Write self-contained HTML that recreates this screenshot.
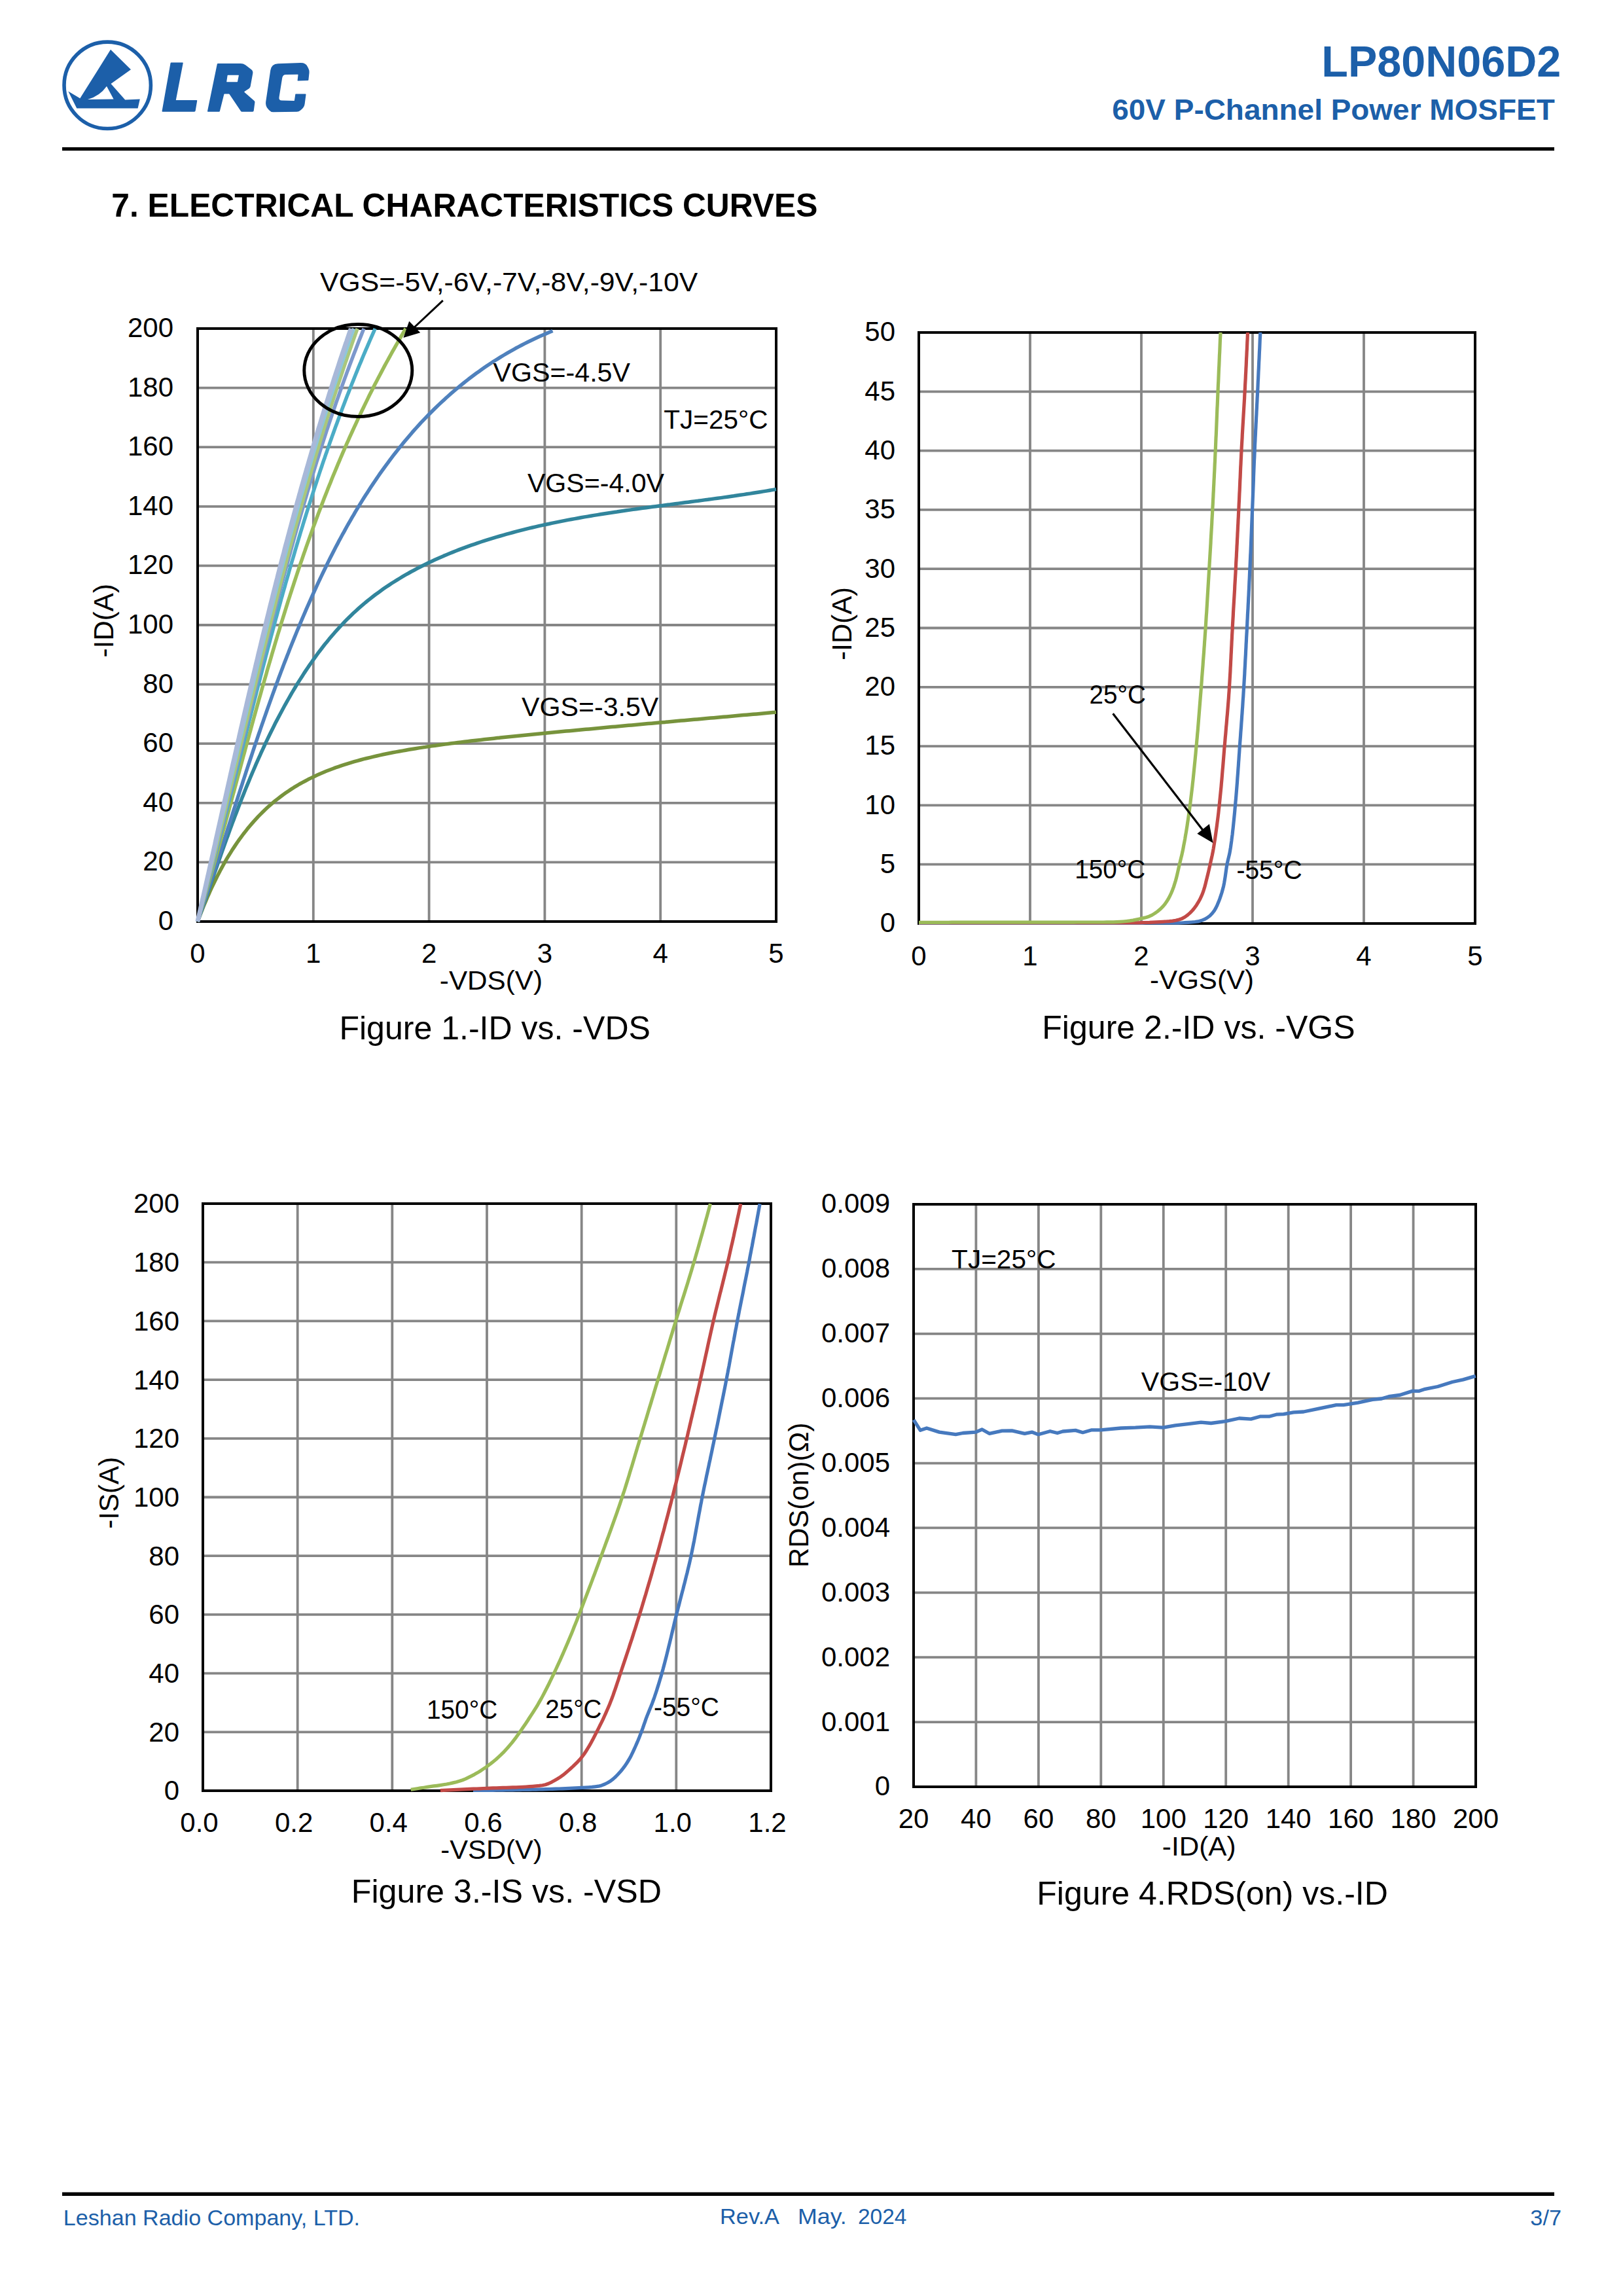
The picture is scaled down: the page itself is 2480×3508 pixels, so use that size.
<!DOCTYPE html>
<html><head><meta charset="utf-8"><title>LP80N06D2</title>
<style>
html,body{margin:0;padding:0;background:#fff;}
body{width:2480px;height:3508px;position:relative;overflow:hidden;font-family:"Liberation Sans", sans-serif;}
</style></head><body>
<svg width="2480" height="3508" viewBox="0 0 2480 3508" style="position:absolute;left:0;top:0" font-family='"Liberation Sans", sans-serif'>
<circle cx="164.2" cy="130.3" r="66.2" fill="none" stroke="#1c5fa9" stroke-width="5.6"/>
<path d="M169.0 75.8 L200.0 106.3 L169.5 128.0 L191.2 152.5 L213.8 151.6 L210.6 165.4 L117.3 165.4 L104.3 139.6 L122.3 150.2 L135.0 130.0 L147.3 110.5 L169.0 75.8 Z M133.9 152.0 Q152.8 146.5 163.0 131.7 L173.6 151.6 Z" fill="#1c5fa9" fill-rule="evenodd"/>
<path d="M260.53 96.38 Q260.70 95.40 261.70 95.40 L278.90 95.40 Q279.90 95.40 279.71 96.38 L268.89 152.51 Q268.80 153.00 269.30 153.00 L300.40 153.00 Q301.40 153.00 301.23 153.99 L298.65 169.32 Q298.40 170.80 296.90 170.80 L248.40 170.80 Q247.40 170.80 247.57 169.82 Z" fill="#1c5fa9"/>
<path d="M331.79 97.88 Q332.00 96.90 333.00 96.90 L367.80 96.90 Q371.80 96.90 374.99 99.32 L383.80 106.01 Q386.99 108.43 386.26 112.36 L382.64 132.12 Q382.27 134.09 380.61 135.20 L373.68 139.82 Q372.85 140.37 373.60 141.03 L388.48 154.05 Q389.61 155.04 389.41 156.52 L387.71 169.26 Q387.51 170.75 386.01 170.75 L369.66 170.75 Q368.66 170.75 368.10 169.92 L350.61 143.93 Q350.33 143.51 349.83 143.51 L342.97 143.51 Q342.47 143.51 342.35 144.00 L335.91 169.78 Q335.66 170.75 334.66 170.75 L317.81 170.75 Q316.81 170.75 317.01 169.77 Z M347.63 115.20 Q347.71 114.71 348.21 114.71 L364.49 114.71 Q364.99 114.71 364.89 115.20 L362.99 124.69 Q362.90 125.18 362.40 125.18 L346.64 125.18 Q346.14 125.18 346.21 124.69 Z" fill="#1c5fa9" fill-rule="evenodd"/>
<path d="M413.29 107.32 Q414.74 97.43 424.74 97.13 L459.12 96.10 Q467.12 95.86 470.00 101.88 L471.58 105.20 Q472.88 107.90 472.57 110.89 L471.41 122.09 Q471.31 123.09 470.31 123.12 L455.05 123.60 Q454.55 123.61 454.60 123.12 L455.54 114.16 Q455.60 113.66 455.10 113.67 L437.03 114.08 Q432.03 114.19 431.24 119.12 L426.53 148.53 Q425.74 153.47 430.74 153.57 L449.33 153.98 Q449.83 153.99 449.91 153.49 L451.33 144.01 Q451.41 143.51 451.91 143.51 L466.64 143.51 Q467.64 143.51 467.51 144.51 L465.67 158.46 Q465.02 163.42 461.26 166.71 L458.90 168.77 Q456.64 170.75 453.64 170.79 L417.70 171.22 Q413.70 171.27 411.12 168.21 L409.18 165.91 Q405.32 161.32 406.19 155.39 Z" fill="#1c5fa9"/>
<text x="2019.37" y="117.00" font-size="66.00" font-weight="bold" fill="#1c5fa9" textLength="365.81" lengthAdjust="spacingAndGlyphs">LP80N06D2</text>
<text x="1699.24" y="183.10" font-size="44.70" font-weight="bold" fill="#1c5fa9" textLength="676.47" lengthAdjust="spacingAndGlyphs">60V P-Channel Power MOSFET</text>
<rect x="95" y="225" width="2280" height="5.2" fill="#000"/>
<text x="170.24" y="330.50" font-size="50.50" font-weight="bold" fill="#000" textLength="1079.17" lengthAdjust="spacingAndGlyphs">7. ELECTRICAL CHARACTERISTICS CURVES</text>
<rect x="95" y="3349.5" width="2280" height="5.5" fill="#000"/>
<text x="96.83" y="3399.50" font-size="32.50" font-weight="normal" fill="#1c5fa9" textLength="453.23" lengthAdjust="spacingAndGlyphs">Leshan Radio Company, LTD.</text>
<text x="1100.00" y="3398.20" font-size="32.50" font-weight="normal" fill="#1c5fa9" textLength="90.97" lengthAdjust="spacingAndGlyphs">Rev.A</text>
<text x="1219.06" y="3398.20" font-size="32.50" font-weight="normal" fill="#1c5fa9" textLength="74.72" lengthAdjust="spacingAndGlyphs">May.</text>
<text x="1311.03" y="3398.20" font-size="32.50" font-weight="normal" fill="#1c5fa9" textLength="74.41" lengthAdjust="spacingAndGlyphs">2024</text>
<text x="2338.37" y="3399.80" font-size="32.40" font-weight="normal" fill="#1c5fa9" textLength="47.60" lengthAdjust="spacingAndGlyphs">3/7</text>
<line x1="478.8" y1="502.0" x2="478.8" y2="1408.0" stroke="#868686" stroke-width="3.8"/>
<line x1="655.6" y1="502.0" x2="655.6" y2="1408.0" stroke="#868686" stroke-width="3.8"/>
<line x1="832.4" y1="502.0" x2="832.4" y2="1408.0" stroke="#868686" stroke-width="3.8"/>
<line x1="1009.2" y1="502.0" x2="1009.2" y2="1408.0" stroke="#868686" stroke-width="3.8"/>
<line x1="302.0" y1="592.6" x2="1186.0" y2="592.6" stroke="#868686" stroke-width="3.8"/>
<line x1="302.0" y1="683.2" x2="1186.0" y2="683.2" stroke="#868686" stroke-width="3.8"/>
<line x1="302.0" y1="773.8" x2="1186.0" y2="773.8" stroke="#868686" stroke-width="3.8"/>
<line x1="302.0" y1="864.4" x2="1186.0" y2="864.4" stroke="#868686" stroke-width="3.8"/>
<line x1="302.0" y1="955.0" x2="1186.0" y2="955.0" stroke="#868686" stroke-width="3.8"/>
<line x1="302.0" y1="1045.6" x2="1186.0" y2="1045.6" stroke="#868686" stroke-width="3.8"/>
<line x1="302.0" y1="1136.2" x2="1186.0" y2="1136.2" stroke="#868686" stroke-width="3.8"/>
<line x1="302.0" y1="1226.8" x2="1186.0" y2="1226.8" stroke="#868686" stroke-width="3.8"/>
<line x1="302.0" y1="1317.4" x2="1186.0" y2="1317.4" stroke="#868686" stroke-width="3.8"/>
<rect x="302.0" y="502.0" width="884.0" height="906.0" fill="none" stroke="#000" stroke-width="4.0"/>
<text x="302.0" y="1471.0" font-size="42.0" text-anchor="middle" font-weight="normal" fill="#000">0</text>
<text x="478.8" y="1471.0" font-size="42.0" text-anchor="middle" font-weight="normal" fill="#000">1</text>
<text x="655.6" y="1471.0" font-size="42.0" text-anchor="middle" font-weight="normal" fill="#000">2</text>
<text x="832.4" y="1471.0" font-size="42.0" text-anchor="middle" font-weight="normal" fill="#000">3</text>
<text x="1009.2" y="1471.0" font-size="42.0" text-anchor="middle" font-weight="normal" fill="#000">4</text>
<text x="1186.0" y="1471.0" font-size="42.0" text-anchor="middle" font-weight="normal" fill="#000">5</text>
<text x="265.0" y="1421.0" font-size="42.0" text-anchor="end" font-weight="normal" fill="#000">0</text>
<text x="265.0" y="1330.4" font-size="42.0" text-anchor="end" font-weight="normal" fill="#000">20</text>
<text x="265.0" y="1239.8" font-size="42.0" text-anchor="end" font-weight="normal" fill="#000">40</text>
<text x="265.0" y="1149.2" font-size="42.0" text-anchor="end" font-weight="normal" fill="#000">60</text>
<text x="265.0" y="1058.6" font-size="42.0" text-anchor="end" font-weight="normal" fill="#000">80</text>
<text x="265.0" y="968.0" font-size="42.0" text-anchor="end" font-weight="normal" fill="#000">100</text>
<text x="265.0" y="877.4" font-size="42.0" text-anchor="end" font-weight="normal" fill="#000">120</text>
<text x="265.0" y="786.8" font-size="42.0" text-anchor="end" font-weight="normal" fill="#000">140</text>
<text x="265.0" y="696.2" font-size="42.0" text-anchor="end" font-weight="normal" fill="#000">160</text>
<text x="265.0" y="605.6" font-size="42.0" text-anchor="end" font-weight="normal" fill="#000">180</text>
<text x="265.0" y="515.0" font-size="42.0" text-anchor="end" font-weight="normal" fill="#000">200</text>
<path d="M302.0 1408.0 L303.8 1403.3 L305.6 1398.6 L307.4 1393.9 L309.3 1389.2 L311.2 1384.5 L313.1 1379.9 L315.1 1375.3 L317.0 1370.6 L319.1 1366.0 L321.1 1361.4 L323.2 1356.8 L325.4 1352.3 L327.6 1347.7 L329.8 1343.2 L332.0 1338.7 L334.4 1334.2 L336.7 1329.8 L339.1 1325.4 L341.5 1321.0 L344.0 1316.6 L346.5 1312.2 L349.1 1307.9 L351.8 1303.6 L354.4 1299.3 L357.2 1295.1 L360.0 1290.9 L362.8 1286.8 L365.7 1282.6 L368.7 1278.6 L371.7 1274.5 L374.8 1270.6 L377.9 1266.6 L381.1 1262.7 L384.4 1258.9 L387.7 1255.1 L391.1 1251.4 L394.5 1247.7 L398.0 1244.1 L401.6 1240.5 L405.2 1237.0 L408.9 1233.6 L412.7 1230.2 L416.5 1226.9 L420.3 1223.7 L424.3 1220.6 L428.3 1217.5 L432.3 1214.5 L436.4 1211.6 L440.6 1208.7 L444.8 1205.9 L449.0 1203.2 L453.3 1200.6 L457.6 1198.0 L462.0 1195.6 L466.5 1193.2 L470.9 1190.8 L475.4 1188.6 L480.0 1186.4 L484.5 1184.3 L489.1 1182.2 L493.8 1180.2 L498.4 1178.3 L503.1 1176.5 L507.8 1174.7 L512.5 1172.9 L517.3 1171.3 L522.1 1169.6 L526.8 1168.1 L531.7 1166.6 L536.5 1165.1 L541.3 1163.7 L546.2 1162.3 L551.0 1161.0 L555.9 1159.7 L560.8 1158.5 L565.7 1157.3 L570.6 1156.1 L575.5 1155.0 L580.4 1153.9 L585.3 1152.8 L590.2 1151.8 L595.2 1150.8 L600.1 1149.8 L605.1 1148.9 L610.0 1148.0 L615.0 1147.1 L619.9 1146.2 L624.9 1145.3 L629.9 1144.5 L634.8 1143.7 L639.8 1142.9 L644.8 1142.1 L649.8 1141.4 L654.7 1140.6 L659.7 1139.9 L664.7 1139.2 L669.7 1138.5 L674.7 1137.8 L679.7 1137.1 L684.7 1136.5 L689.7 1135.8 L694.7 1135.2 L699.7 1134.6 L704.7 1133.9 L709.7 1133.3 L714.7 1132.7 L719.7 1132.1 L724.7 1131.6 L729.7 1131.0 L734.7 1130.4 L739.7 1129.8 L744.7 1129.3 L749.7 1128.7 L754.7 1128.2 L759.7 1127.6 L764.7 1127.1 L769.7 1126.6 L774.7 1126.0 L779.7 1125.5 L784.8 1125.0 L789.8 1124.5 L794.8 1124.0 L799.8 1123.5 L804.8 1123.0 L809.8 1122.5 L814.8 1122.0 L819.8 1121.5 L824.8 1121.0 L829.9 1120.5 L834.9 1120.0 L839.9 1119.5 L844.9 1119.0 L849.9 1118.6 L854.9 1118.1 L859.9 1117.6 L865.0 1117.1 L870.0 1116.7 L875.0 1116.2 L880.0 1115.7 L885.0 1115.3 L890.0 1114.8 L895.0 1114.3 L900.1 1113.9 L905.1 1113.4 L910.1 1112.9 L915.1 1112.5 L920.1 1112.0 L925.1 1111.5 L930.1 1111.1 L935.2 1110.6 L940.2 1110.2 L945.2 1109.7 L950.2 1109.3 L955.2 1108.8 L960.2 1108.3 L965.3 1107.9 L970.3 1107.4 L975.3 1107.0 L980.3 1106.5 L985.3 1106.1 L990.3 1105.6 L995.4 1105.2 L1000.4 1104.7 L1005.4 1104.3 L1010.4 1103.8 L1015.4 1103.4 L1020.4 1102.9 L1025.5 1102.5 L1030.5 1102.0 L1035.5 1101.6 L1040.5 1101.1 L1045.5 1100.7 L1050.5 1100.2 L1055.6 1099.8 L1060.6 1099.3 L1065.6 1098.9 L1070.6 1098.4 L1075.6 1098.0 L1080.6 1097.6 L1085.7 1097.1 L1090.7 1096.7 L1095.7 1096.2 L1100.7 1095.8 L1105.7 1095.3 L1110.7 1094.9 L1115.8 1094.4 L1120.8 1094.0 L1125.8 1093.5 L1130.8 1093.1 L1135.8 1092.6 L1140.8 1092.2 L1145.9 1091.8 L1150.9 1091.3 L1155.9 1090.9 L1160.9 1090.4 L1165.9 1090.0 L1170.9 1089.5 L1176.0 1089.1 L1181.0 1088.6 L1186.0 1088.2" fill="none" stroke="#77933C" stroke-width="5.50" stroke-linejoin="round" stroke-linecap="butt"/>
<path d="M302.0 1408.0 L303.6 1403.3 L305.3 1398.7 L306.9 1394.0 L308.6 1389.3 L310.2 1384.6 L311.8 1379.9 L313.5 1375.2 L315.1 1370.5 L316.7 1365.8 L318.4 1361.1 L320.0 1356.4 L321.7 1351.7 L323.3 1346.9 L324.9 1342.2 L326.6 1337.5 L328.2 1332.7 L329.9 1328.0 L331.6 1323.3 L333.2 1318.5 L334.9 1313.8 L336.6 1309.0 L338.2 1304.3 L339.9 1299.6 L341.6 1294.8 L343.3 1290.1 L345.0 1285.3 L346.7 1280.6 L348.5 1275.9 L350.2 1271.1 L351.9 1266.4 L353.7 1261.6 L355.4 1256.9 L357.2 1252.2 L359.0 1247.4 L360.8 1242.7 L362.6 1238.0 L364.4 1233.3 L366.2 1228.6 L368.1 1223.8 L369.9 1219.1 L371.8 1214.4 L373.6 1209.7 L375.5 1205.0 L377.4 1200.4 L379.4 1195.7 L381.3 1191.0 L383.2 1186.3 L385.2 1181.7 L387.2 1177.0 L389.2 1172.4 L391.2 1167.7 L393.2 1163.1 L395.3 1158.4 L397.4 1153.8 L399.4 1149.2 L401.6 1144.6 L403.7 1140.0 L405.8 1135.4 L408.0 1130.9 L410.2 1126.3 L412.4 1121.7 L414.6 1117.2 L416.9 1112.7 L419.1 1108.2 L421.4 1103.6 L423.8 1099.1 L426.1 1094.7 L428.5 1090.2 L430.9 1085.7 L433.3 1081.3 L435.7 1076.8 L438.2 1072.4 L440.7 1068.0 L443.2 1063.6 L445.7 1059.2 L448.3 1054.9 L450.9 1050.5 L453.5 1046.2 L456.2 1041.9 L458.9 1037.6 L461.6 1033.4 L464.3 1029.1 L467.1 1024.9 L469.9 1020.7 L472.7 1016.6 L475.6 1012.5 L478.5 1008.3 L481.4 1004.3 L484.4 1000.2 L487.3 996.2 L490.4 992.2 L493.4 988.3 L496.5 984.3 L499.7 980.5 L502.8 976.6 L506.0 972.8 L509.3 969.0 L512.5 965.3 L515.8 961.6 L519.2 957.9 L522.6 954.3 L526.0 950.7 L529.4 947.2 L532.9 943.7 L536.5 940.2 L540.0 936.8 L543.7 933.4 L547.3 930.1 L551.0 926.9 L554.8 923.7 L558.5 920.5 L562.3 917.4 L566.2 914.3 L570.1 911.3 L574.0 908.3 L578.0 905.4 L582.0 902.5 L586.0 899.6 L590.1 896.8 L594.2 894.1 L598.4 891.3 L602.5 888.7 L606.7 886.1 L611.0 883.5 L615.2 880.9 L619.5 878.4 L623.9 876.0 L628.2 873.5 L632.6 871.2 L637.0 868.8 L641.5 866.5 L645.9 864.2 L650.4 862.0 L654.9 859.8 L659.5 857.7 L664.0 855.6 L668.6 853.5 L673.2 851.5 L677.9 849.4 L682.5 847.5 L687.2 845.5 L691.9 843.6 L696.6 841.8 L701.3 839.9 L706.0 838.1 L710.8 836.4 L715.6 834.6 L720.4 832.9 L725.2 831.3 L730.0 829.6 L734.8 828.0 L739.7 826.4 L744.5 824.9 L749.4 823.4 L754.3 821.9 L759.2 820.4 L764.1 819.0 L769.0 817.6 L773.9 816.2 L778.8 814.8 L783.8 813.5 L788.7 812.2 L793.6 810.9 L798.6 809.6 L803.5 808.4 L808.5 807.2 L813.4 806.0 L818.4 804.9 L823.4 803.7 L828.3 802.6 L833.3 801.5 L838.3 800.5 L843.2 799.4 L848.2 798.4 L853.2 797.4 L858.1 796.4 L863.1 795.4 L868.0 794.4 L873.0 793.5 L878.0 792.6 L882.9 791.7 L887.9 790.8 L892.8 789.9 L897.8 789.1 L902.8 788.2 L907.7 787.4 L912.7 786.6 L917.7 785.8 L922.6 785.0 L927.6 784.2 L932.5 783.5 L937.5 782.7 L942.5 782.0 L947.4 781.2 L952.4 780.5 L957.3 779.8 L962.3 779.1 L967.3 778.4 L972.2 777.7 L977.2 777.0 L982.2 776.3 L987.1 775.7 L992.1 775.0 L997.0 774.3 L1002.0 773.7 L1007.0 773.0 L1011.9 772.4 L1016.9 771.7 L1021.9 771.1 L1026.8 770.4 L1031.8 769.8 L1036.8 769.1 L1041.7 768.5 L1046.7 767.8 L1051.7 767.2 L1056.6 766.6 L1061.6 765.9 L1066.6 765.3 L1071.5 764.6 L1076.5 763.9 L1081.5 763.3 L1086.4 762.6 L1091.4 761.9 L1096.4 761.3 L1101.4 760.6 L1106.3 759.9 L1111.3 759.2 L1116.3 758.5 L1121.3 757.8 L1126.2 757.0 L1131.2 756.3 L1136.2 755.6 L1141.2 754.8 L1146.1 754.1 L1151.1 753.3 L1156.1 752.5 L1161.1 751.7 L1166.1 750.9 L1171.0 750.1 L1176.0 749.2 L1181.0 748.4 L1186.0 747.5" fill="none" stroke="#31859C" stroke-width="5.50" stroke-linejoin="round"/>
<path d="M302.0 1408.0 L303.6 1403.3 L305.1 1398.6 L306.7 1393.9 L308.3 1389.2 L309.9 1384.5 L311.4 1379.8 L313.0 1375.0 L314.5 1370.3 L316.1 1365.6 L317.6 1360.9 L319.2 1356.1 L320.7 1351.4 L322.3 1346.6 L323.8 1341.9 L325.3 1337.1 L326.9 1332.4 L328.4 1327.6 L329.9 1322.8 L331.5 1318.1 L333.0 1313.3 L334.5 1308.5 L336.1 1303.7 L337.6 1299.0 L339.1 1294.2 L340.7 1289.4 L342.2 1284.6 L343.7 1279.8 L345.3 1275.0 L346.8 1270.2 L348.3 1265.4 L349.9 1260.6 L351.4 1255.8 L352.9 1251.0 L354.5 1246.2 L356.0 1241.4 L357.5 1236.6 L359.1 1231.8 L360.6 1227.0 L362.2 1222.2 L363.7 1217.4 L365.3 1212.5 L366.8 1207.7 L368.4 1202.9 L370.0 1198.1 L371.5 1193.3 L373.1 1188.5 L374.7 1183.7 L376.2 1178.8 L377.8 1174.0 L379.4 1169.2 L381.0 1164.4 L382.6 1159.6 L384.2 1154.8 L385.8 1150.0 L387.4 1145.1 L389.0 1140.3 L390.6 1135.5 L392.3 1130.7 L393.9 1125.9 L395.5 1121.1 L397.2 1116.3 L398.8 1111.5 L400.5 1106.7 L402.2 1101.9 L403.8 1097.1 L405.5 1092.3 L407.2 1087.5 L408.9 1082.7 L410.6 1077.9 L412.3 1073.1 L414.0 1068.3 L415.7 1063.6 L417.4 1058.8 L419.2 1054.0 L420.9 1049.2 L422.7 1044.5 L424.5 1039.7 L426.2 1034.9 L428.0 1030.2 L429.8 1025.4 L431.6 1020.7 L433.4 1015.9 L435.2 1011.2 L437.1 1006.4 L438.9 1001.7 L440.8 997.0 L442.6 992.2 L444.5 987.5 L446.4 982.8 L448.3 978.1 L450.2 973.4 L452.1 968.7 L454.0 964.0 L456.0 959.3 L457.9 954.6 L459.9 949.9 L461.9 945.2 L463.9 940.5 L465.9 935.9 L467.9 931.2 L469.9 926.6 L472.0 921.9 L474.0 917.3 L476.1 912.6 L478.2 908.0 L480.3 903.4 L482.4 898.8 L484.5 894.2 L486.6 889.6 L488.8 885.0 L491.0 880.4 L493.2 875.8 L495.4 871.2 L497.6 866.7 L499.8 862.1 L502.0 857.6 L504.3 853.1 L506.6 848.6 L508.9 844.0 L511.2 839.5 L513.5 835.1 L515.9 830.6 L518.2 826.1 L520.6 821.7 L523.0 817.2 L525.5 812.8 L527.9 808.4 L530.3 804.0 L532.8 799.6 L535.3 795.3 L537.8 790.9 L540.4 786.6 L542.9 782.2 L545.5 777.9 L548.1 773.6 L550.7 769.4 L553.3 765.1 L556.0 760.8 L558.7 756.6 L561.4 752.4 L564.1 748.2 L566.8 744.0 L569.6 739.9 L572.4 735.7 L575.2 731.6 L578.0 727.5 L580.8 723.4 L583.7 719.4 L586.6 715.3 L589.5 711.3 L592.5 707.3 L595.4 703.3 L598.4 699.3 L601.4 695.4 L604.5 691.5 L607.6 687.6 L610.6 683.7 L613.8 679.9 L616.9 676.0 L620.1 672.2 L623.3 668.4 L626.5 664.7 L629.7 660.9 L633.0 657.2 L636.3 653.5 L639.6 649.9 L642.9 646.2 L646.3 642.6 L649.7 639.1 L653.2 635.5 L656.6 632.0 L660.1 628.5 L663.6 625.0 L667.2 621.5 L670.7 618.1 L674.3 614.7 L678.0 611.4 L681.6 608.0 L685.3 604.7 L689.0 601.4 L692.8 598.2 L696.6 595.0 L700.4 591.8 L704.2 588.6 L708.1 585.5 L712.0 582.4 L715.9 579.3 L719.9 576.3 L723.9 573.3 L727.9 570.3 L732.0 567.4 L736.0 564.5 L740.2 561.6 L744.3 558.8 L748.5 556.0 L752.7 553.2 L757.0 550.5 L761.3 547.8 L765.6 545.1 L770.0 542.5 L774.4 539.9 L778.8 537.3 L783.3 534.8 L787.7 532.3 L792.3 529.9 L796.8 527.5 L801.4 525.1 L806.1 522.8 L810.8 520.5 L815.5 518.2 L820.2 516.0 L825.0 513.8 L829.8 511.7 L834.7 509.6 L839.6 507.5 L844.5 505.5" fill="none" stroke="#4F81BD" stroke-width="5.50" stroke-linejoin="round"/>
<path d="M302.0 1408.0 L303.4 1403.2 L304.8 1398.4 L306.3 1393.5 L307.7 1388.7 L309.1 1383.9 L310.5 1379.0 L311.9 1374.2 L313.3 1369.4 L314.6 1364.5 L316.0 1359.7 L317.4 1354.9 L318.8 1350.0 L320.1 1345.2 L321.5 1340.3 L322.9 1335.5 L324.2 1330.6 L325.6 1325.8 L326.9 1320.9 L328.3 1316.1 L329.6 1311.2 L331.0 1306.4 L332.3 1301.5 L333.7 1296.6 L335.0 1291.8 L336.3 1286.9 L337.7 1282.1 L339.0 1277.2 L340.3 1272.3 L341.6 1267.5 L343.0 1262.6 L344.3 1257.7 L345.6 1252.9 L346.9 1248.0 L348.3 1243.1 L349.6 1238.3 L350.9 1233.4 L352.2 1228.5 L353.5 1223.6 L354.8 1218.8 L356.1 1213.9 L357.5 1209.0 L358.8 1204.1 L360.1 1199.3 L361.4 1194.4 L362.7 1189.5 L364.0 1184.6 L365.4 1179.8 L366.7 1174.9 L368.0 1170.0 L369.3 1165.1 L370.6 1160.3 L371.9 1155.4 L373.3 1150.5 L374.6 1145.6 L375.9 1140.8 L377.2 1135.9 L378.6 1131.0 L379.9 1126.2 L381.2 1121.3 L382.6 1116.4 L383.9 1111.5 L385.2 1106.7 L386.6 1101.8 L387.9 1096.9 L389.3 1092.1 L390.6 1087.2 L392.0 1082.3 L393.3 1077.5 L394.7 1072.6 L396.0 1067.7 L397.4 1062.9 L398.8 1058.0 L400.1 1053.2 L401.5 1048.3 L402.9 1043.5 L404.3 1038.6 L405.7 1033.7 L407.1 1028.9 L408.4 1024.0 L409.8 1019.2 L411.3 1014.3 L412.7 1009.5 L414.1 1004.7 L415.5 999.8 L416.9 995.0 L418.4 990.1 L419.8 985.3 L421.2 980.5 L422.7 975.6 L424.1 970.8 L425.6 966.0 L427.1 961.2 L428.5 956.3 L430.0 951.5 L431.5 946.7 L433.0 941.9 L434.5 937.1 L436.0 932.2 L437.5 927.4 L439.0 922.6 L440.5 917.8 L442.1 913.0 L443.6 908.2 L445.2 903.4 L446.7 898.6 L448.3 893.8 L449.8 889.1 L451.4 884.3 L453.0 879.5 L454.6 874.7 L456.2 869.9 L457.8 865.2 L459.4 860.4 L461.1 855.6 L462.7 850.9 L464.3 846.1 L466.0 841.4 L467.6 836.6 L469.3 831.9 L471.0 827.1 L472.7 822.4 L474.4 817.6 L476.1 812.9 L477.8 808.2 L479.5 803.4 L481.3 798.7 L483.0 794.0 L484.8 789.3 L486.5 784.6 L488.3 779.9 L490.1 775.2 L491.9 770.5 L493.7 765.8 L495.5 761.1 L497.3 756.4 L499.2 751.7 L501.0 747.0 L502.9 742.3 L504.8 737.7 L506.6 733.0 L508.5 728.3 L510.4 723.7 L512.4 719.0 L514.3 714.4 L516.2 709.7 L518.2 705.1 L520.1 700.5 L522.1 695.8 L524.1 691.2 L526.1 686.6 L528.1 682.0 L530.1 677.4 L532.2 672.8 L534.2 668.2 L536.3 663.6 L538.4 659.0 L540.5 654.4 L542.6 649.8 L544.7 645.3 L546.8 640.7 L549.0 636.1 L551.1 631.6 L553.3 627.0 L555.5 622.5 L557.7 617.9 L559.9 613.4 L562.1 608.9 L564.3 604.3 L566.6 599.8 L568.9 595.3 L571.1 590.8 L573.4 586.3 L575.8 581.8 L578.1 577.3 L580.4 572.9 L582.8 568.4 L585.1 563.9 L587.5 559.4 L589.9 555.0 L592.4 550.5 L594.8 546.1 L597.2 541.7 L599.7 537.2 L602.2 532.8 L604.7 528.4 L607.2 524.0 L609.7 519.6 L612.3 515.2 L614.8 510.8 L617.4 506.4 L620.0 502.0" fill="none" stroke="#9BBB59" stroke-width="5.50" stroke-linejoin="round"/>
<path d="M302.0 1408.0 L303.3 1403.1 L304.7 1398.3 L306.0 1393.4 L307.3 1388.6 L308.6 1383.7 L309.9 1378.9 L311.2 1374.0 L312.5 1369.2 L313.8 1364.3 L315.1 1359.4 L316.4 1354.6 L317.7 1349.7 L318.9 1344.8 L320.2 1340.0 L321.5 1335.1 L322.8 1330.2 L324.0 1325.4 L325.3 1320.5 L326.6 1315.6 L327.8 1310.7 L329.1 1305.9 L330.4 1301.0 L331.6 1296.1 L332.9 1291.2 L334.1 1286.4 L335.4 1281.5 L336.6 1276.6 L337.9 1271.7 L339.1 1266.8 L340.4 1262.0 L341.6 1257.1 L342.8 1252.2 L344.1 1247.3 L345.3 1242.4 L346.6 1237.6 L347.8 1232.7 L349.0 1227.8 L350.3 1222.9 L351.5 1218.0 L352.7 1213.1 L354.0 1208.2 L355.2 1203.4 L356.4 1198.5 L357.6 1193.6 L358.9 1188.7 L360.1 1183.8 L361.3 1178.9 L362.6 1174.0 L363.8 1169.2 L365.0 1164.3 L366.2 1159.4 L367.5 1154.5 L368.7 1149.6 L369.9 1144.7 L371.2 1139.8 L372.4 1134.9 L373.6 1130.1 L374.9 1125.2 L376.1 1120.3 L377.3 1115.4 L378.6 1110.5 L379.8 1105.6 L381.0 1100.7 L382.3 1095.9 L383.5 1091.0 L384.7 1086.1 L386.0 1081.2 L387.2 1076.3 L388.5 1071.4 L389.7 1066.6 L391.0 1061.7 L392.2 1056.8 L393.5 1051.9 L394.7 1047.0 L396.0 1042.2 L397.3 1037.3 L398.5 1032.4 L399.8 1027.5 L401.0 1022.7 L402.3 1017.8 L403.6 1012.9 L404.9 1008.0 L406.1 1003.2 L407.4 998.3 L408.7 993.4 L410.0 988.5 L411.3 983.7 L412.6 978.8 L413.9 973.9 L415.2 969.1 L416.5 964.2 L417.8 959.3 L419.1 954.5 L420.4 949.6 L421.7 944.8 L423.1 939.9 L424.4 935.0 L425.7 930.2 L427.1 925.3 L428.4 920.5 L429.7 915.6 L431.1 910.8 L432.4 905.9 L433.8 901.1 L435.2 896.2 L436.5 891.4 L437.9 886.5 L439.3 881.7 L440.7 876.9 L442.0 872.0 L443.4 867.2 L444.8 862.4 L446.2 857.5 L447.7 852.7 L449.1 847.9 L450.5 843.0 L451.9 838.2 L453.3 833.4 L454.8 828.6 L456.2 823.7 L457.7 818.9 L459.1 814.1 L460.6 809.3 L462.1 804.5 L463.5 799.7 L465.0 794.9 L466.5 790.1 L468.0 785.3 L469.5 780.5 L471.0 775.7 L472.5 770.9 L474.1 766.1 L475.6 761.3 L477.1 756.5 L478.7 751.7 L480.2 746.9 L481.8 742.1 L483.4 737.3 L484.9 732.6 L486.5 727.8 L488.1 723.0 L489.7 718.2 L491.3 713.5 L492.9 708.7 L494.5 703.9 L496.2 699.2 L497.8 694.4 L499.5 689.7 L501.1 684.9 L502.8 680.2 L504.4 675.4 L506.1 670.7 L507.8 665.9 L509.5 661.2 L511.2 656.5 L512.9 651.7 L514.7 647.0 L516.4 642.3 L518.2 637.5 L519.9 632.8 L521.7 628.1 L523.4 623.4 L525.2 618.7 L527.0 614.0 L528.8 609.3 L530.6 604.6 L532.5 599.9 L534.3 595.2 L536.1 590.5 L538.0 585.8 L539.9 581.1 L541.7 576.4 L543.6 571.7 L545.5 567.1 L547.4 562.4 L549.3 557.7 L551.3 553.1 L553.2 548.4 L555.1 543.8 L557.1 539.1 L559.1 534.4 L561.1 529.8 L563.1 525.2 L565.1 520.5 L567.1 515.9 L569.1 511.3 L571.2 506.6 L573.2 502.0" fill="none" stroke="#4BACC6" stroke-width="5.50" stroke-linejoin="round"/>
<path d="M302.0 1408.0 L303.3 1403.1 L304.6 1398.3 L305.9 1393.4 L307.2 1388.6 L308.5 1383.7 L309.8 1378.8 L311.0 1374.0 L312.3 1369.1 L313.6 1364.2 L314.9 1359.3 L316.1 1354.5 L317.4 1349.6 L318.6 1344.7 L319.9 1339.8 L321.1 1335.0 L322.4 1330.1 L323.6 1325.2 L324.9 1320.3 L326.1 1315.5 L327.3 1310.6 L328.6 1305.7 L329.8 1300.8 L331.0 1295.9 L332.2 1291.0 L333.5 1286.2 L334.7 1281.3 L335.9 1276.4 L337.1 1271.5 L338.3 1266.6 L339.5 1261.7 L340.7 1256.8 L341.9 1251.9 L343.1 1247.0 L344.3 1242.1 L345.5 1237.3 L346.7 1232.4 L347.9 1227.5 L349.1 1222.6 L350.3 1217.7 L351.5 1212.8 L352.7 1207.9 L353.9 1203.0 L355.1 1198.1 L356.3 1193.2 L357.5 1188.3 L358.6 1183.4 L359.8 1178.5 L361.0 1173.6 L362.2 1168.7 L363.4 1163.8 L364.6 1158.9 L365.7 1154.0 L366.9 1149.1 L368.1 1144.2 L369.3 1139.3 L370.5 1134.4 L371.6 1129.5 L372.8 1124.6 L374.0 1119.7 L375.2 1114.8 L376.4 1109.9 L377.5 1105.0 L378.7 1100.1 L379.9 1095.2 L381.1 1090.3 L382.3 1085.4 L383.5 1080.5 L384.6 1075.7 L385.8 1070.8 L387.0 1065.9 L388.2 1061.0 L389.4 1056.1 L390.6 1051.2 L391.8 1046.3 L393.0 1041.4 L394.2 1036.5 L395.4 1031.6 L396.6 1026.7 L397.8 1021.8 L399.0 1016.9 L400.2 1012.0 L401.4 1007.1 L402.6 1002.2 L403.8 997.4 L405.0 992.5 L406.3 987.6 L407.5 982.7 L408.7 977.8 L409.9 972.9 L411.1 968.0 L412.4 963.2 L413.6 958.3 L414.8 953.4 L416.1 948.5 L417.3 943.6 L418.6 938.7 L419.8 933.9 L421.1 929.0 L422.3 924.1 L423.6 919.2 L424.9 914.4 L426.1 909.5 L427.4 904.6 L428.7 899.7 L429.9 894.9 L431.2 890.0 L432.5 885.1 L433.8 880.3 L435.1 875.4 L436.4 870.5 L437.7 865.7 L439.0 860.8 L440.3 856.0 L441.6 851.1 L443.0 846.3 L444.3 841.4 L445.6 836.5 L447.0 831.7 L448.3 826.8 L449.6 822.0 L451.0 817.1 L452.4 812.3 L453.7 807.5 L455.1 802.6 L456.5 797.8 L457.8 792.9 L459.2 788.1 L460.6 783.3 L462.0 778.4 L463.4 773.6 L464.8 768.8 L466.2 763.9 L467.7 759.1 L469.1 754.3 L470.5 749.5 L472.0 744.6 L473.4 739.8 L474.9 735.0 L476.3 730.2 L477.8 725.4 L479.3 720.6 L480.8 715.8 L482.3 711.0 L483.7 706.2 L485.3 701.4 L486.8 696.6 L488.3 691.8 L489.8 687.0 L491.3 682.2 L492.9 677.4 L494.4 672.6 L496.0 667.8 L497.6 663.0 L499.1 658.2 L500.7 653.5 L502.3 648.7 L503.9 643.9 L505.5 639.1 L507.1 634.4 L508.7 629.6 L510.4 624.9 L512.0 620.1 L513.6 615.3 L515.3 610.6 L517.0 605.8 L518.6 601.1 L520.3 596.3 L522.0 591.6 L523.7 586.8 L525.4 582.1 L527.1 577.4 L528.9 572.6 L530.6 567.9 L532.4 563.2 L534.1 558.5 L535.9 553.7 L537.7 549.0 L539.5 544.3 L541.3 539.6 L543.1 534.9 L544.9 530.2 L546.7 525.5 L548.5 520.8 L550.4 516.1 L552.3 511.4 L554.1 506.7 L556.0 502.0" fill="none" stroke="#7C98CC" stroke-width="5.50" stroke-linejoin="round"/>
<path d="M302.0 1408.0 L303.2 1403.1 L304.5 1398.2 L305.7 1393.3 L307.0 1388.4 L308.2 1383.6 L309.4 1378.7 L310.7 1373.8 L311.9 1368.9 L313.1 1364.0 L314.4 1359.1 L315.6 1354.2 L316.8 1349.3 L318.0 1344.4 L319.2 1339.5 L320.4 1334.6 L321.7 1329.7 L322.9 1324.8 L324.1 1319.9 L325.3 1315.0 L326.5 1310.1 L327.7 1305.2 L328.9 1300.3 L330.1 1295.4 L331.3 1290.5 L332.5 1285.6 L333.7 1280.7 L334.8 1275.8 L336.0 1270.9 L337.2 1266.0 L338.4 1261.1 L339.6 1256.2 L340.8 1251.3 L342.0 1246.3 L343.2 1241.4 L344.3 1236.5 L345.5 1231.6 L346.7 1226.7 L347.9 1221.8 L349.1 1216.9 L350.2 1212.0 L351.4 1207.1 L352.6 1202.2 L353.8 1197.3 L354.9 1192.3 L356.1 1187.4 L357.3 1182.5 L358.5 1177.6 L359.6 1172.7 L360.8 1167.8 L362.0 1162.9 L363.2 1158.0 L364.3 1153.1 L365.5 1148.2 L366.7 1143.2 L367.9 1138.3 L369.1 1133.4 L370.2 1128.5 L371.4 1123.6 L372.6 1118.7 L373.8 1113.8 L374.9 1108.9 L376.1 1104.0 L377.3 1099.0 L378.5 1094.1 L379.7 1089.2 L380.8 1084.3 L382.0 1079.4 L383.2 1074.5 L384.4 1069.6 L385.6 1064.7 L386.8 1059.8 L387.9 1054.9 L389.1 1050.0 L390.3 1045.1 L391.5 1040.1 L392.7 1035.2 L393.9 1030.3 L395.1 1025.4 L396.3 1020.5 L397.5 1015.6 L398.7 1010.7 L399.9 1005.8 L401.1 1000.9 L402.3 996.0 L403.5 991.1 L404.7 986.2 L406.0 981.3 L407.2 976.4 L408.4 971.5 L409.6 966.6 L410.8 961.7 L412.1 956.8 L413.3 951.9 L414.5 947.0 L415.7 942.1 L417.0 937.2 L418.2 932.3 L419.5 927.4 L420.7 922.6 L421.9 917.7 L423.2 912.8 L424.4 907.9 L425.7 903.0 L427.0 898.1 L428.2 893.2 L429.5 888.3 L430.7 883.4 L432.0 878.6 L433.3 873.7 L434.6 868.8 L435.8 863.9 L437.1 859.0 L438.4 854.2 L439.7 849.3 L441.0 844.4 L442.3 839.5 L443.6 834.6 L444.9 829.8 L446.2 824.9 L447.5 820.0 L448.9 815.2 L450.2 810.3 L451.5 805.4 L452.8 800.6 L454.2 795.7 L455.5 790.8 L456.9 786.0 L458.2 781.1 L459.6 776.2 L460.9 771.4 L462.3 766.5 L463.6 761.7 L465.0 756.8 L466.4 752.0 L467.8 747.1 L469.2 742.3 L470.6 737.4 L472.0 732.6 L473.4 727.7 L474.8 722.9 L476.2 718.0 L477.6 713.2 L479.0 708.4 L480.4 703.5 L481.9 698.7 L483.3 693.8 L484.8 689.0 L486.2 684.2 L487.7 679.4 L489.1 674.5 L490.6 669.7 L492.1 664.9 L493.6 660.1 L495.0 655.2 L496.5 650.4 L498.0 645.6 L499.5 640.8 L501.0 636.0 L502.6 631.2 L504.1 626.3 L505.6 621.5 L507.1 616.7 L508.7 611.9 L510.2 607.1 L511.8 602.3 L513.4 597.5 L514.9 592.7 L516.5 587.9 L518.1 583.1 L519.7 578.3 L521.3 573.6 L522.9 568.8 L524.5 564.0 L526.1 559.2 L527.7 554.4 L529.4 549.7 L531.0 544.9 L532.6 540.1 L534.3 535.3 L536.0 530.6 L537.6 525.8 L539.3 521.0 L541.0 516.3 L542.7 511.5 L544.4 506.8 L546.1 502.0" fill="none" stroke="#AAC77C" stroke-width="5.50" stroke-linejoin="round"/>
<path d="M302.0 1408.0 L303.2 1403.1 L304.3 1398.2 L305.5 1393.3 L306.7 1388.4 L307.8 1383.5 L309.0 1378.6 L310.2 1373.7 L311.3 1368.8 L312.5 1363.9 L313.7 1359.0 L314.8 1354.1 L316.0 1349.2 L317.1 1344.3 L318.3 1339.4 L319.4 1334.5 L320.6 1329.6 L321.7 1324.7 L322.9 1319.8 L324.0 1314.8 L325.2 1309.9 L326.3 1305.0 L327.4 1300.1 L328.6 1295.2 L329.7 1290.3 L330.9 1285.4 L332.0 1280.5 L333.1 1275.6 L334.3 1270.7 L335.4 1265.8 L336.6 1260.8 L337.7 1255.9 L338.8 1251.0 L340.0 1246.1 L341.1 1241.2 L342.2 1236.3 L343.4 1231.4 L344.5 1226.5 L345.6 1221.6 L346.8 1216.6 L347.9 1211.7 L349.1 1206.8 L350.2 1201.9 L351.3 1197.0 L352.5 1192.1 L353.6 1187.2 L354.7 1182.3 L355.9 1177.3 L357.0 1172.4 L358.1 1167.5 L359.3 1162.6 L360.4 1157.7 L361.6 1152.8 L362.7 1147.9 L363.8 1143.0 L365.0 1138.1 L366.1 1133.1 L367.3 1128.2 L368.4 1123.3 L369.6 1118.4 L370.7 1113.5 L371.8 1108.6 L373.0 1103.7 L374.1 1098.8 L375.3 1093.9 L376.4 1089.0 L377.6 1084.1 L378.8 1079.1 L379.9 1074.2 L381.1 1069.3 L382.2 1064.4 L383.4 1059.5 L384.5 1054.6 L385.7 1049.7 L386.9 1044.8 L388.0 1039.9 L389.2 1035.0 L390.4 1030.1 L391.6 1025.2 L392.7 1020.3 L393.9 1015.4 L395.1 1010.5 L396.3 1005.6 L397.4 1000.7 L398.6 995.8 L399.8 990.9 L401.0 986.0 L402.2 981.1 L403.4 976.2 L404.6 971.3 L405.8 966.4 L407.0 961.5 L408.2 956.6 L409.4 951.7 L410.6 946.8 L411.8 941.9 L413.1 937.0 L414.3 932.1 L415.5 927.3 L416.7 922.4 L417.9 917.5 L419.2 912.6 L420.4 907.7 L421.7 902.8 L422.9 897.9 L424.1 893.1 L425.4 888.2 L426.6 883.3 L427.9 878.4 L429.1 873.5 L430.4 868.7 L431.7 863.8 L432.9 858.9 L434.2 854.0 L435.5 849.2 L436.8 844.3 L438.1 839.4 L439.3 834.5 L440.6 829.7 L441.9 824.8 L443.2 819.9 L444.5 815.1 L445.8 810.2 L447.2 805.3 L448.5 800.5 L449.8 795.6 L451.1 790.7 L452.4 785.9 L453.8 781.0 L455.1 776.2 L456.5 771.3 L457.8 766.5 L459.2 761.6 L460.5 756.8 L461.9 751.9 L463.3 747.1 L464.6 742.2 L466.0 737.4 L467.4 732.5 L468.8 727.7 L470.2 722.8 L471.6 718.0 L473.0 713.2 L474.4 708.3 L475.8 703.5 L477.2 698.7 L478.6 693.8 L480.1 689.0 L481.5 684.2 L482.9 679.3 L484.4 674.5 L485.8 669.7 L487.3 664.9 L488.8 660.1 L490.2 655.2 L491.7 650.4 L493.2 645.6 L494.7 640.8 L496.2 636.0 L497.7 631.2 L499.2 626.4 L500.7 621.5 L502.2 616.7 L503.7 611.9 L505.2 607.1 L506.8 602.3 L508.3 597.5 L509.9 592.7 L511.4 587.9 L513.0 583.2 L514.6 578.4 L516.1 573.6 L517.7 568.8 L519.3 564.0 L520.9 559.2 L522.5 554.4 L524.1 549.7 L525.7 544.9 L527.4 540.1 L529.0 535.3 L530.6 530.6 L532.3 525.8 L533.9 521.0 L535.6 516.3 L537.2 511.5 L538.9 506.8 L540.6 502.0" fill="none" stroke="#8FC6DA" stroke-width="5.50" stroke-linejoin="round"/>
<path d="M302.0 1408.0 L303.1 1403.1 L304.2 1398.2 L305.3 1393.3 L306.4 1388.4 L307.5 1383.5 L308.6 1378.6 L309.7 1373.6 L310.9 1368.7 L312.0 1363.8 L313.1 1358.9 L314.2 1354.0 L315.3 1349.1 L316.4 1344.2 L317.5 1339.3 L318.6 1334.4 L319.7 1329.5 L320.8 1324.5 L321.9 1319.6 L323.0 1314.7 L324.1 1309.8 L325.2 1304.9 L326.3 1300.0 L327.4 1295.1 L328.5 1290.2 L329.5 1285.2 L330.6 1280.3 L331.7 1275.4 L332.8 1270.5 L333.9 1265.6 L335.0 1260.7 L336.1 1255.8 L337.2 1250.9 L338.3 1245.9 L339.4 1241.0 L340.5 1236.1 L341.6 1231.2 L342.7 1226.3 L343.9 1221.4 L345.0 1216.5 L346.1 1211.5 L347.2 1206.6 L348.3 1201.7 L349.4 1196.8 L350.5 1191.9 L351.6 1187.0 L352.7 1182.1 L353.8 1177.2 L354.9 1172.2 L356.0 1167.3 L357.1 1162.4 L358.3 1157.5 L359.4 1152.6 L360.5 1147.7 L361.6 1142.8 L362.7 1137.9 L363.8 1133.0 L365.0 1128.1 L366.1 1123.1 L367.2 1118.2 L368.3 1113.3 L369.5 1108.4 L370.6 1103.5 L371.7 1098.6 L372.9 1093.7 L374.0 1088.8 L375.1 1083.9 L376.3 1079.0 L377.4 1074.1 L378.5 1069.2 L379.7 1064.3 L380.8 1059.4 L382.0 1054.5 L383.1 1049.6 L384.3 1044.7 L385.4 1039.7 L386.6 1034.8 L387.7 1029.9 L388.9 1025.0 L390.1 1020.1 L391.2 1015.2 L392.4 1010.4 L393.6 1005.5 L394.7 1000.6 L395.9 995.7 L397.1 990.8 L398.3 985.9 L399.4 981.0 L400.6 976.1 L401.8 971.2 L403.0 966.3 L404.2 961.4 L405.4 956.5 L406.6 951.6 L407.8 946.7 L409.0 941.8 L410.2 937.0 L411.4 932.1 L412.6 927.2 L413.8 922.3 L415.1 917.4 L416.3 912.5 L417.5 907.6 L418.7 902.8 L420.0 897.9 L421.2 893.0 L422.4 888.1 L423.7 883.3 L424.9 878.4 L426.2 873.5 L427.4 868.6 L428.7 863.7 L429.9 858.9 L431.2 854.0 L432.5 849.1 L433.8 844.3 L435.0 839.4 L436.3 834.5 L437.6 829.7 L438.9 824.8 L440.2 819.9 L441.5 815.1 L442.8 810.2 L444.1 805.3 L445.4 800.5 L446.7 795.6 L448.0 790.8 L449.3 785.9 L450.6 781.1 L452.0 776.2 L453.3 771.4 L454.6 766.5 L456.0 761.7 L457.3 756.8 L458.7 752.0 L460.0 747.1 L461.4 742.3 L462.8 737.4 L464.1 732.6 L465.5 727.7 L466.9 722.9 L468.3 718.1 L469.7 713.2 L471.1 708.4 L472.5 703.6 L473.9 698.7 L475.3 693.9 L476.7 689.1 L478.1 684.2 L479.5 679.4 L481.0 674.6 L482.4 669.8 L483.8 664.9 L485.3 660.1 L486.7 655.3 L488.2 650.5 L489.7 645.7 L491.1 640.9 L492.6 636.0 L494.1 631.2 L495.6 626.4 L497.1 621.6 L498.6 616.8 L500.1 612.0 L501.6 607.2 L503.1 602.4 L504.6 597.6 L506.1 592.8 L507.7 588.0 L509.2 583.2 L510.7 578.4 L512.3 573.6 L513.8 568.8 L515.4 564.1 L517.0 559.3 L518.5 554.5 L520.1 549.7 L521.7 544.9 L523.3 540.2 L524.9 535.4 L526.5 530.6 L528.1 525.8 L529.8 521.1 L531.4 516.3 L533.0 511.5 L534.7 506.8 L536.3 502.0" fill="none" stroke="#A8B8D8" stroke-width="7.00" stroke-linejoin="round"/>
<ellipse cx="547.3" cy="566" rx="82.5" ry="70.5" fill="none" stroke="#000" stroke-width="4.9"/>
<line x1="676.8" y1="459.1" x2="630" y2="503" stroke="#000" stroke-width="3"/>
<path d="M616.4 516.1 L625.2 490.7 L642.2 508.3 Z" fill="#000"/>
<text x="489.11" y="444.50" font-size="41.30" font-weight="normal" fill="#000" textLength="577.06" lengthAdjust="spacingAndGlyphs">VGS=-5V,-6V,-7V,-8V,-9V,-10V</text>
<text x="753.60" y="583.00" font-size="41.30" font-weight="normal" fill="#000" textLength="209.33" lengthAdjust="spacingAndGlyphs">VGS=-4.5V</text>
<text x="1014.31" y="655.10" font-size="41.30" font-weight="normal" fill="#000" textLength="159.22" lengthAdjust="spacingAndGlyphs">TJ=25&#176;C</text>
<text x="805.90" y="752.10" font-size="41.30" font-weight="normal" fill="#000" textLength="209.13" lengthAdjust="spacingAndGlyphs">VGS=-4.0V</text>
<text x="797.10" y="1093.70" font-size="41.30" font-weight="normal" fill="#000" textLength="209.13" lengthAdjust="spacingAndGlyphs">VGS=-3.5V</text>
<text transform="translate(173.30 1002.50) rotate(-90)" x="-2.01" y="0" font-size="42.00" textLength="112.49" lengthAdjust="spacingAndGlyphs">-ID(A)</text>
<text x="671.84" y="1512.00" font-size="41.00" font-weight="normal" fill="#000" textLength="157.25" lengthAdjust="spacingAndGlyphs">-VDS(V)</text>
<text x="518.40" y="1587.70" font-size="50.00" font-weight="normal" fill="#000" textLength="475.53" lengthAdjust="spacingAndGlyphs">Figure 1.-ID vs. -VDS</text>
<line x1="1574.0" y1="508.0" x2="1574.0" y2="1411.0" stroke="#868686" stroke-width="3.8"/>
<line x1="1744.0" y1="508.0" x2="1744.0" y2="1411.0" stroke="#868686" stroke-width="3.8"/>
<line x1="1914.0" y1="508.0" x2="1914.0" y2="1411.0" stroke="#868686" stroke-width="3.8"/>
<line x1="2084.0" y1="508.0" x2="2084.0" y2="1411.0" stroke="#868686" stroke-width="3.8"/>
<line x1="1404.0" y1="598.3" x2="2254.0" y2="598.3" stroke="#868686" stroke-width="3.8"/>
<line x1="1404.0" y1="688.6" x2="2254.0" y2="688.6" stroke="#868686" stroke-width="3.8"/>
<line x1="1404.0" y1="778.9" x2="2254.0" y2="778.9" stroke="#868686" stroke-width="3.8"/>
<line x1="1404.0" y1="869.2" x2="2254.0" y2="869.2" stroke="#868686" stroke-width="3.8"/>
<line x1="1404.0" y1="959.5" x2="2254.0" y2="959.5" stroke="#868686" stroke-width="3.8"/>
<line x1="1404.0" y1="1049.8" x2="2254.0" y2="1049.8" stroke="#868686" stroke-width="3.8"/>
<line x1="1404.0" y1="1140.1" x2="2254.0" y2="1140.1" stroke="#868686" stroke-width="3.8"/>
<line x1="1404.0" y1="1230.4" x2="2254.0" y2="1230.4" stroke="#868686" stroke-width="3.8"/>
<line x1="1404.0" y1="1320.7" x2="2254.0" y2="1320.7" stroke="#868686" stroke-width="3.8"/>
<rect x="1404.0" y="508.0" width="850.0" height="903.0" fill="none" stroke="#000" stroke-width="4.0"/>
<text x="1404.0" y="1474.6" font-size="42.0" text-anchor="middle" font-weight="normal" fill="#000">0</text>
<text x="1574.0" y="1474.6" font-size="42.0" text-anchor="middle" font-weight="normal" fill="#000">1</text>
<text x="1744.0" y="1474.6" font-size="42.0" text-anchor="middle" font-weight="normal" fill="#000">2</text>
<text x="1914.0" y="1474.6" font-size="42.0" text-anchor="middle" font-weight="normal" fill="#000">3</text>
<text x="2084.0" y="1474.6" font-size="42.0" text-anchor="middle" font-weight="normal" fill="#000">4</text>
<text x="2254.0" y="1474.6" font-size="42.0" text-anchor="middle" font-weight="normal" fill="#000">5</text>
<text x="1368.0" y="1424.3" font-size="42.0" text-anchor="end" font-weight="normal" fill="#000">0</text>
<text x="1368.0" y="1334.0" font-size="42.0" text-anchor="end" font-weight="normal" fill="#000">5</text>
<text x="1368.0" y="1243.7" font-size="42.0" text-anchor="end" font-weight="normal" fill="#000">10</text>
<text x="1368.0" y="1153.4" font-size="42.0" text-anchor="end" font-weight="normal" fill="#000">15</text>
<text x="1368.0" y="1063.1" font-size="42.0" text-anchor="end" font-weight="normal" fill="#000">20</text>
<text x="1368.0" y="972.8" font-size="42.0" text-anchor="end" font-weight="normal" fill="#000">25</text>
<text x="1368.0" y="882.5" font-size="42.0" text-anchor="end" font-weight="normal" fill="#000">30</text>
<text x="1368.0" y="792.2" font-size="42.0" text-anchor="end" font-weight="normal" fill="#000">35</text>
<text x="1368.0" y="701.9" font-size="42.0" text-anchor="end" font-weight="normal" fill="#000">40</text>
<text x="1368.0" y="611.6" font-size="42.0" text-anchor="end" font-weight="normal" fill="#000">45</text>
<text x="1368.0" y="521.3" font-size="42.0" text-anchor="end" font-weight="normal" fill="#000">50</text>
<path d="M1404.0 1410.5 L1409.0 1410.5 L1414.0 1410.5 L1419.1 1410.5 L1424.1 1410.5 L1429.1 1410.5 L1434.1 1410.5 L1439.1 1410.5 L1444.2 1410.5 L1449.2 1410.5 L1454.2 1410.5 L1459.2 1410.5 L1464.3 1410.5 L1469.3 1410.5 L1474.3 1410.5 L1479.3 1410.5 L1484.3 1410.5 L1489.4 1410.5 L1494.4 1410.5 L1499.4 1410.5 L1504.4 1410.5 L1509.4 1410.5 L1514.5 1410.5 L1519.5 1410.5 L1524.5 1410.5 L1529.5 1410.5 L1534.6 1410.4 L1539.6 1410.4 L1544.6 1410.4 L1549.6 1410.4 L1554.6 1410.4 L1559.7 1410.4 L1564.7 1410.4 L1569.7 1410.4 L1574.7 1410.4 L1579.7 1410.4 L1584.8 1410.4 L1589.8 1410.4 L1594.8 1410.4 L1599.8 1410.4 L1604.8 1410.4 L1609.9 1410.4 L1614.9 1410.4 L1619.9 1410.4 L1624.9 1410.4 L1630.0 1410.4 L1635.0 1410.4 L1640.0 1410.4 L1645.0 1410.4 L1650.0 1410.4 L1655.1 1410.4 L1660.1 1410.4 L1665.1 1410.4 L1670.1 1410.4 L1675.2 1410.3 L1680.2 1410.3 L1685.2 1410.3 L1690.2 1410.3 L1695.3 1410.3 L1700.3 1410.3 L1705.3 1410.3 L1710.3 1410.3 L1715.3 1410.3 L1720.4 1410.3 L1725.4 1410.3 L1730.4 1410.3 L1735.4 1410.3 L1740.5 1410.3 L1745.5 1410.3 L1750.5 1410.2 L1755.5 1410.2 L1760.5 1410.2 L1765.6 1410.2 L1770.6 1410.2 L1775.6 1410.2 L1780.6 1410.2 L1785.6 1410.1 L1790.6 1410.1 L1795.7 1410.1 L1800.7 1410.1 L1805.7 1410.0 L1810.8 1409.7 L1815.8 1409.4 L1820.8 1409.0 L1825.8 1408.5 L1830.7 1407.9 L1835.6 1406.6 L1840.3 1404.7 L1844.6 1402.3 L1848.7 1399.2 L1852.3 1395.5 L1855.3 1391.7 L1857.8 1387.4 L1860.0 1382.8 L1862.0 1378.1 L1863.8 1373.4 L1865.4 1368.7 L1867.0 1363.8 L1868.3 1359.0 L1869.6 1354.1 L1870.6 1349.2 L1871.4 1344.3 L1872.2 1339.3 L1872.9 1334.3 L1873.6 1329.3 L1874.3 1324.4 L1875.2 1319.4 L1876.3 1314.5 L1877.5 1309.6 L1878.7 1304.7 L1879.6 1299.8 L1880.4 1294.9 L1881.1 1289.9 L1881.8 1285.0 L1882.4 1280.0 L1883.1 1275.0 L1883.6 1270.0 L1884.2 1265.0 L1884.7 1260.0 L1885.2 1255.0 L1885.7 1250.0 L1886.2 1245.0 L1886.7 1240.0 L1887.1 1235.0 L1887.6 1230.0 L1888.0 1225.0 L1888.5 1220.0 L1888.9 1215.0 L1889.3 1210.0 L1889.7 1205.0 L1890.1 1200.0 L1890.5 1195.0 L1890.8 1190.0 L1891.2 1184.9 L1891.6 1179.9 L1891.9 1174.9 L1892.3 1169.9 L1892.6 1164.9 L1893.0 1159.9 L1893.3 1154.9 L1893.7 1149.9 L1894.0 1144.9 L1894.4 1139.9 L1894.7 1134.9 L1895.1 1129.8 L1895.5 1124.8 L1895.8 1119.8 L1896.2 1114.8 L1896.6 1109.8 L1896.9 1104.8 L1897.3 1099.8 L1897.6 1094.8 L1898.0 1089.8 L1898.3 1084.8 L1898.7 1079.8 L1899.0 1074.7 L1899.3 1069.7 L1899.7 1064.7 L1900.0 1059.7 L1900.3 1054.7 L1900.6 1049.7 L1900.9 1044.7 L1901.2 1039.7 L1901.5 1034.7 L1901.8 1029.6 L1902.0 1024.6 L1902.3 1019.6 L1902.6 1014.6 L1902.8 1009.6 L1903.1 1004.6 L1903.4 999.6 L1903.6 994.5 L1903.9 989.5 L1904.1 984.5 L1904.4 979.5 L1904.6 974.5 L1904.9 969.5 L1905.2 964.5 L1905.4 959.4 L1905.7 954.4 L1905.9 949.4 L1906.2 944.4 L1906.4 939.4 L1906.7 934.4 L1907.0 929.4 L1907.2 924.3 L1907.5 919.3 L1907.7 914.3 L1908.0 909.3 L1908.2 904.3 L1908.5 899.3 L1908.7 894.2 L1908.9 889.2 L1909.2 884.2 L1909.4 879.2 L1909.6 874.2 L1909.9 869.2 L1910.1 864.2 L1910.3 859.1 L1910.5 854.1 L1910.7 849.1 L1911.0 844.1 L1911.2 839.1 L1911.4 834.1 L1911.6 829.0 L1911.8 824.0 L1912.0 819.0 L1912.2 814.0 L1912.4 809.0 L1912.6 804.0 L1912.8 798.9 L1913.0 793.9 L1913.2 788.9 L1913.4 783.9 L1913.6 778.9 L1913.8 773.8 L1914.0 768.8 L1914.2 763.8 L1914.4 758.8 L1914.6 753.8 L1914.8 748.8 L1915.0 743.7 L1915.2 738.7 L1915.4 733.7 L1915.5 728.7 L1915.7 723.7 L1915.9 718.7 L1916.1 713.6 L1916.3 708.6 L1916.5 703.6 L1916.8 698.6 L1917.0 693.6 L1917.2 688.6 L1917.4 683.5 L1917.6 678.5 L1917.9 673.5 L1918.1 668.5 L1918.4 663.5 L1918.6 658.5 L1918.9 653.4 L1919.1 648.4 L1919.4 643.4 L1919.6 638.4 L1919.9 633.4 L1920.1 628.4 L1920.4 623.4 L1920.6 618.3 L1920.9 613.3 L1921.1 608.3 L1921.4 603.3 L1921.6 598.3 L1921.9 593.3 L1922.1 588.3 L1922.3 583.2 L1922.6 578.2 L1922.8 573.2 L1923.0 568.2 L1923.3 563.2 L1923.5 558.2 L1923.7 553.1 L1924.0 548.1 L1924.2 543.1 L1924.4 538.1 L1924.7 533.1 L1924.9 528.1 L1925.1 523.0 L1925.3 518.0 L1925.6 513.0 L1925.8 508.0" fill="none" stroke="#4679BE" stroke-width="5.20" stroke-linejoin="round" stroke-linecap="butt"/>
<path d="M1404.0 1410.0 L1409.0 1410.0 L1414.1 1410.0 L1419.1 1410.0 L1424.1 1410.0 L1429.2 1410.0 L1434.2 1410.0 L1439.2 1410.0 L1444.3 1410.0 L1449.3 1410.0 L1454.4 1410.0 L1459.4 1410.0 L1464.4 1410.0 L1469.5 1410.0 L1474.5 1410.0 L1479.5 1410.0 L1484.6 1410.0 L1489.6 1410.0 L1494.6 1410.0 L1499.7 1410.0 L1504.7 1410.0 L1509.7 1410.0 L1514.8 1410.0 L1519.8 1410.0 L1524.9 1410.0 L1529.9 1410.0 L1534.9 1410.0 L1540.0 1410.0 L1545.0 1410.0 L1550.0 1410.0 L1555.1 1410.0 L1560.1 1410.0 L1565.1 1410.0 L1570.2 1410.0 L1575.2 1410.0 L1580.2 1410.0 L1585.3 1410.0 L1590.3 1410.0 L1595.3 1410.0 L1600.4 1410.0 L1605.4 1410.0 L1610.5 1410.0 L1615.5 1410.0 L1620.5 1410.0 L1625.6 1410.0 L1630.6 1410.0 L1635.6 1410.0 L1640.7 1410.0 L1645.7 1410.0 L1650.7 1410.0 L1655.8 1410.0 L1660.8 1410.0 L1665.9 1410.0 L1670.9 1410.0 L1675.9 1410.0 L1681.0 1410.0 L1686.0 1410.0 L1691.0 1410.0 L1696.1 1410.0 L1701.1 1410.0 L1706.1 1410.0 L1711.2 1410.0 L1716.2 1410.0 L1721.2 1410.0 L1726.3 1410.0 L1731.3 1410.0 L1736.4 1409.9 L1741.4 1409.8 L1746.5 1409.7 L1751.5 1409.5 L1756.6 1409.4 L1761.6 1409.1 L1766.6 1408.9 L1771.7 1408.6 L1776.7 1408.3 L1781.7 1408.0 L1786.6 1407.7 L1791.7 1407.1 L1796.7 1406.2 L1801.6 1404.9 L1806.3 1403.4 L1810.7 1401.0 L1814.9 1397.9 L1818.6 1394.6 L1822.1 1391.0 L1825.3 1387.1 L1828.3 1382.9 L1830.9 1378.7 L1833.4 1374.3 L1835.6 1369.7 L1837.6 1365.0 L1839.2 1360.3 L1840.7 1355.5 L1842.0 1350.6 L1843.2 1345.7 L1844.4 1340.8 L1845.6 1336.0 L1846.8 1331.0 L1847.9 1326.1 L1849.0 1321.2 L1850.1 1316.3 L1851.2 1311.4 L1852.3 1306.5 L1853.3 1301.5 L1854.2 1296.6 L1855.0 1291.6 L1855.8 1286.7 L1856.6 1281.7 L1857.3 1276.7 L1858.0 1271.7 L1858.7 1266.7 L1859.4 1261.7 L1860.0 1256.7 L1860.7 1251.7 L1861.3 1246.7 L1861.9 1241.7 L1862.4 1236.7 L1863.0 1231.7 L1863.5 1226.7 L1864.0 1221.7 L1864.5 1216.7 L1865.0 1211.7 L1865.5 1206.7 L1866.0 1201.7 L1866.4 1196.7 L1866.9 1191.6 L1867.3 1186.6 L1867.7 1181.6 L1868.1 1176.6 L1868.6 1171.6 L1869.0 1166.5 L1869.4 1161.5 L1869.8 1156.5 L1870.2 1151.5 L1870.6 1146.5 L1871.0 1141.4 L1871.5 1136.4 L1871.9 1131.4 L1872.3 1126.4 L1872.8 1121.4 L1873.2 1116.4 L1873.6 1111.3 L1874.1 1106.3 L1874.5 1101.3 L1874.9 1096.3 L1875.4 1091.3 L1875.8 1086.2 L1876.2 1081.2 L1876.6 1076.2 L1877.0 1071.2 L1877.4 1066.2 L1877.7 1061.1 L1878.1 1056.1 L1878.4 1051.1 L1878.7 1046.1 L1879.0 1041.1 L1879.3 1036.0 L1879.6 1031.0 L1879.9 1026.0 L1880.1 1020.9 L1880.4 1015.9 L1880.6 1010.9 L1880.9 1005.9 L1881.1 1000.8 L1881.4 995.8 L1881.6 990.8 L1881.9 985.7 L1882.1 980.7 L1882.4 975.7 L1882.6 970.6 L1882.9 965.6 L1883.2 960.6 L1883.4 955.6 L1883.7 950.5 L1884.0 945.5 L1884.3 940.5 L1884.5 935.4 L1884.8 930.4 L1885.1 925.4 L1885.4 920.4 L1885.7 915.3 L1886.0 910.3 L1886.3 905.3 L1886.6 900.3 L1886.8 895.2 L1887.1 890.2 L1887.4 885.2 L1887.7 880.1 L1888.0 875.1 L1888.2 870.1 L1888.5 865.1 L1888.7 860.0 L1889.0 855.0 L1889.3 850.0 L1889.5 844.9 L1889.8 839.9 L1890.0 834.9 L1890.3 829.9 L1890.5 824.8 L1890.8 819.8 L1891.0 814.8 L1891.3 809.7 L1891.5 804.7 L1891.8 799.7 L1892.0 794.7 L1892.3 789.6 L1892.5 784.6 L1892.8 779.6 L1893.0 774.5 L1893.2 769.5 L1893.5 764.5 L1893.7 759.4 L1893.9 754.4 L1894.2 749.4 L1894.4 744.4 L1894.6 739.3 L1894.8 734.3 L1895.1 729.3 L1895.3 724.2 L1895.5 719.2 L1895.7 714.2 L1896.0 709.1 L1896.2 704.1 L1896.5 699.1 L1896.7 694.1 L1897.0 689.0 L1897.2 684.0 L1897.5 679.0 L1897.8 673.9 L1898.1 668.9 L1898.3 663.9 L1898.6 658.9 L1898.9 653.8 L1899.2 648.8 L1899.5 643.8 L1899.8 638.8 L1900.1 633.7 L1900.4 628.7 L1900.7 623.7 L1901.0 618.6 L1901.3 613.6 L1901.6 608.6 L1901.8 603.6 L1902.1 598.5 L1902.4 593.5 L1902.6 588.5 L1902.9 583.4 L1903.2 578.4 L1903.4 573.4 L1903.7 568.4 L1903.9 563.3 L1904.2 558.3 L1904.4 553.3 L1904.6 548.2 L1904.9 543.2 L1905.1 538.2 L1905.4 533.2 L1905.6 528.1 L1905.8 523.1 L1906.1 518.1 L1906.3 513.0 L1906.5 508.0" fill="none" stroke="#C24A47" stroke-width="5.20" stroke-linejoin="round" stroke-linecap="butt"/>
<path d="M1404.0 1409.3 L1409.0 1409.3 L1414.1 1409.3 L1419.1 1409.3 L1424.2 1409.3 L1429.2 1409.3 L1434.2 1409.3 L1439.3 1409.3 L1444.3 1409.3 L1449.3 1409.3 L1454.4 1409.2 L1459.4 1409.2 L1464.5 1409.2 L1469.5 1409.2 L1474.5 1409.2 L1479.6 1409.2 L1484.6 1409.2 L1489.6 1409.2 L1494.7 1409.2 L1499.7 1409.2 L1504.8 1409.2 L1509.8 1409.2 L1514.8 1409.2 L1519.9 1409.2 L1524.9 1409.2 L1529.9 1409.2 L1535.0 1409.2 L1540.0 1409.2 L1545.1 1409.2 L1550.1 1409.2 L1555.1 1409.1 L1560.2 1409.1 L1565.2 1409.1 L1570.2 1409.1 L1575.3 1409.1 L1580.3 1409.1 L1585.4 1409.1 L1590.4 1409.1 L1595.4 1409.1 L1600.5 1409.1 L1605.5 1409.1 L1610.5 1409.1 L1615.6 1409.1 L1620.6 1409.1 L1625.7 1409.1 L1630.7 1409.1 L1635.7 1409.1 L1640.8 1409.1 L1645.8 1409.0 L1650.9 1409.0 L1655.9 1409.0 L1660.9 1409.0 L1666.0 1409.0 L1671.0 1409.0 L1676.1 1409.0 L1681.1 1409.0 L1686.1 1409.0 L1691.2 1408.9 L1696.2 1408.9 L1701.2 1408.9 L1706.3 1408.7 L1711.3 1408.4 L1716.3 1408.0 L1721.3 1407.5 L1726.3 1406.9 L1731.3 1406.1 L1736.2 1405.1 L1741.2 1404.0 L1746.1 1402.9 L1751.0 1401.7 L1755.8 1400.2 L1760.3 1398.1 L1764.7 1395.4 L1768.8 1392.5 L1772.6 1389.3 L1776.3 1385.7 L1779.6 1381.9 L1782.5 1377.8 L1785.2 1373.5 L1787.6 1369.0 L1789.7 1364.5 L1791.6 1359.9 L1793.4 1355.1 L1794.9 1350.3 L1796.4 1345.5 L1797.7 1340.6 L1798.9 1335.7 L1800.0 1330.8 L1801.1 1325.9 L1802.2 1321.0 L1803.4 1316.1 L1804.6 1311.2 L1805.8 1306.3 L1806.9 1301.4 L1807.9 1296.4 L1808.8 1291.5 L1809.8 1286.5 L1810.7 1281.6 L1811.5 1276.6 L1812.4 1271.6 L1813.2 1266.7 L1814.0 1261.7 L1814.7 1256.7 L1815.5 1251.7 L1816.2 1246.7 L1816.9 1241.7 L1817.6 1236.7 L1818.2 1231.7 L1818.9 1226.8 L1819.5 1221.8 L1820.1 1216.8 L1820.7 1211.8 L1821.3 1206.8 L1821.9 1201.8 L1822.4 1196.7 L1823.0 1191.7 L1823.5 1186.7 L1824.0 1181.7 L1824.5 1176.7 L1825.0 1171.7 L1825.5 1166.7 L1826.0 1161.7 L1826.5 1156.6 L1827.0 1151.6 L1827.4 1146.6 L1827.9 1141.6 L1828.4 1136.6 L1828.8 1131.6 L1829.3 1126.5 L1829.7 1121.5 L1830.2 1116.5 L1830.6 1111.5 L1831.0 1106.5 L1831.4 1101.4 L1831.8 1096.4 L1832.2 1091.4 L1832.6 1086.4 L1833.0 1081.4 L1833.4 1076.3 L1833.8 1071.3 L1834.2 1066.3 L1834.6 1061.3 L1835.0 1056.2 L1835.4 1051.2 L1835.8 1046.2 L1836.2 1041.2 L1836.5 1036.2 L1836.9 1031.1 L1837.3 1026.1 L1837.7 1021.1 L1838.1 1016.1 L1838.4 1011.0 L1838.8 1006.0 L1839.2 1001.0 L1839.6 996.0 L1839.9 990.9 L1840.3 985.9 L1840.6 980.9 L1841.0 975.9 L1841.3 970.8 L1841.7 965.8 L1842.0 960.8 L1842.4 955.8 L1842.7 950.7 L1843.0 945.7 L1843.3 940.7 L1843.7 935.7 L1844.0 930.6 L1844.3 925.6 L1844.6 920.6 L1844.9 915.5 L1845.2 910.5 L1845.5 905.5 L1845.8 900.5 L1846.1 895.4 L1846.4 890.4 L1846.7 885.4 L1847.0 880.3 L1847.3 875.3 L1847.6 870.3 L1847.9 865.3 L1848.2 860.2 L1848.5 855.2 L1848.8 850.2 L1849.1 845.1 L1849.4 840.1 L1849.7 835.1 L1850.0 830.1 L1850.2 825.0 L1850.5 820.0 L1850.8 815.0 L1851.1 809.9 L1851.4 804.9 L1851.7 799.9 L1851.9 794.8 L1852.2 789.8 L1852.5 784.8 L1852.7 779.8 L1853.0 774.7 L1853.3 769.7 L1853.5 764.7 L1853.8 759.6 L1854.0 754.6 L1854.3 749.6 L1854.5 744.5 L1854.8 739.5 L1855.0 734.5 L1855.3 729.4 L1855.5 724.4 L1855.8 719.4 L1856.0 714.3 L1856.2 709.3 L1856.5 704.3 L1856.7 699.2 L1856.9 694.2 L1857.2 689.2 L1857.4 684.2 L1857.6 679.1 L1857.8 674.1 L1858.0 669.1 L1858.3 664.0 L1858.5 659.0 L1858.7 654.0 L1858.9 648.9 L1859.1 643.9 L1859.3 638.9 L1859.5 633.8 L1859.7 628.8 L1859.9 623.8 L1860.2 618.7 L1860.4 613.7 L1860.6 608.7 L1860.8 603.6 L1861.0 598.6 L1861.2 593.6 L1861.4 588.5 L1861.7 583.5 L1861.9 578.5 L1862.1 573.4 L1862.3 568.4 L1862.5 563.4 L1862.8 558.3 L1863.0 553.3 L1863.2 548.3 L1863.4 543.2 L1863.7 538.2 L1863.9 533.2 L1864.1 528.1 L1864.3 523.1 L1864.5 518.1 L1864.8 513.0 L1865.0 508.0" fill="none" stroke="#9BBB59" stroke-width="5.20" stroke-linejoin="round" stroke-linecap="butt"/>
<line x1="1700.6" y1="1090.2" x2="1840" y2="1271" stroke="#000" stroke-width="3.2"/>
<path d="M1853.6 1288 L1829.3 1273.8 L1847.9 1259.1 Z" fill="#000"/>
<text x="1664.61" y="1074.90" font-size="41.30" font-weight="normal" fill="#000" textLength="86.37" lengthAdjust="spacingAndGlyphs">25&#176;C</text>
<text x="1642.28" y="1342.20" font-size="41.30" font-weight="normal" fill="#000" textLength="107.77" lengthAdjust="spacingAndGlyphs">150&#176;C</text>
<text x="1889.39" y="1343.30" font-size="41.30" font-weight="normal" fill="#000" textLength="100.27" lengthAdjust="spacingAndGlyphs">-55&#176;C</text>
<text transform="translate(1301.00 1006.70) rotate(-90)" x="-2.00" y="0" font-size="42.00" textLength="111.76" lengthAdjust="spacingAndGlyphs">-ID(A)</text>
<text x="1757.05" y="1510.70" font-size="41.00" font-weight="normal" fill="#000" textLength="159.02" lengthAdjust="spacingAndGlyphs">-VGS(V)</text>
<text x="1592.30" y="1586.50" font-size="50.00" font-weight="normal" fill="#000" textLength="478.31" lengthAdjust="spacingAndGlyphs">Figure 2.-ID vs. -VGS</text>
<line x1="454.7" y1="1839.0" x2="454.7" y2="2736.0" stroke="#868686" stroke-width="3.8"/>
<line x1="599.3" y1="1839.0" x2="599.3" y2="2736.0" stroke="#868686" stroke-width="3.8"/>
<line x1="744.0" y1="1839.0" x2="744.0" y2="2736.0" stroke="#868686" stroke-width="3.8"/>
<line x1="888.7" y1="1839.0" x2="888.7" y2="2736.0" stroke="#868686" stroke-width="3.8"/>
<line x1="1033.3" y1="1839.0" x2="1033.3" y2="2736.0" stroke="#868686" stroke-width="3.8"/>
<line x1="310.0" y1="1928.7" x2="1178.0" y2="1928.7" stroke="#868686" stroke-width="3.8"/>
<line x1="310.0" y1="2018.4" x2="1178.0" y2="2018.4" stroke="#868686" stroke-width="3.8"/>
<line x1="310.0" y1="2108.1" x2="1178.0" y2="2108.1" stroke="#868686" stroke-width="3.8"/>
<line x1="310.0" y1="2197.8" x2="1178.0" y2="2197.8" stroke="#868686" stroke-width="3.8"/>
<line x1="310.0" y1="2287.5" x2="1178.0" y2="2287.5" stroke="#868686" stroke-width="3.8"/>
<line x1="310.0" y1="2377.2" x2="1178.0" y2="2377.2" stroke="#868686" stroke-width="3.8"/>
<line x1="310.0" y1="2466.9" x2="1178.0" y2="2466.9" stroke="#868686" stroke-width="3.8"/>
<line x1="310.0" y1="2556.6" x2="1178.0" y2="2556.6" stroke="#868686" stroke-width="3.8"/>
<line x1="310.0" y1="2646.3" x2="1178.0" y2="2646.3" stroke="#868686" stroke-width="3.8"/>
<rect x="310.0" y="1839.0" width="868.0" height="897.0" fill="none" stroke="#000" stroke-width="4.0"/>
<text x="304.5" y="2799.2" font-size="42.0" text-anchor="middle" font-weight="normal" fill="#000">0.0</text>
<text x="449.2" y="2799.2" font-size="42.0" text-anchor="middle" font-weight="normal" fill="#000">0.2</text>
<text x="593.8" y="2799.2" font-size="42.0" text-anchor="middle" font-weight="normal" fill="#000">0.4</text>
<text x="738.5" y="2799.2" font-size="42.0" text-anchor="middle" font-weight="normal" fill="#000">0.6</text>
<text x="883.2" y="2799.2" font-size="42.0" text-anchor="middle" font-weight="normal" fill="#000">0.8</text>
<text x="1027.8" y="2799.2" font-size="42.0" text-anchor="middle" font-weight="normal" fill="#000">1.0</text>
<text x="1172.5" y="2799.2" font-size="42.0" text-anchor="middle" font-weight="normal" fill="#000">1.2</text>
<text x="274.0" y="2750.4" font-size="42.0" text-anchor="end" font-weight="normal" fill="#000">0</text>
<text x="274.0" y="2660.7" font-size="42.0" text-anchor="end" font-weight="normal" fill="#000">20</text>
<text x="274.0" y="2571.0" font-size="42.0" text-anchor="end" font-weight="normal" fill="#000">40</text>
<text x="274.0" y="2481.3" font-size="42.0" text-anchor="end" font-weight="normal" fill="#000">60</text>
<text x="274.0" y="2391.6" font-size="42.0" text-anchor="end" font-weight="normal" fill="#000">80</text>
<text x="274.0" y="2301.9" font-size="42.0" text-anchor="end" font-weight="normal" fill="#000">100</text>
<text x="274.0" y="2212.2" font-size="42.0" text-anchor="end" font-weight="normal" fill="#000">120</text>
<text x="274.0" y="2122.5" font-size="42.0" text-anchor="end" font-weight="normal" fill="#000">140</text>
<text x="274.0" y="2032.8" font-size="42.0" text-anchor="end" font-weight="normal" fill="#000">160</text>
<text x="274.0" y="1943.1" font-size="42.0" text-anchor="end" font-weight="normal" fill="#000">180</text>
<text x="274.0" y="1853.4" font-size="42.0" text-anchor="end" font-weight="normal" fill="#000">200</text>
<path d="M723.0 2735.5 L728.0 2735.5 L733.1 2735.5 L738.1 2735.4 L743.2 2735.4 L748.2 2735.3 L753.3 2735.3 L758.3 2735.2 L763.3 2735.1 L768.4 2735.1 L773.4 2735.0 L778.5 2734.9 L783.5 2734.8 L788.5 2734.7 L793.6 2734.6 L798.6 2734.5 L803.7 2734.4 L808.7 2734.3 L813.8 2734.2 L818.8 2734.1 L823.8 2734.0 L828.9 2733.8 L833.9 2733.7 L839.0 2733.5 L844.0 2733.4 L849.0 2733.2 L854.1 2733.0 L859.1 2732.8 L864.2 2732.6 L869.2 2732.4 L874.2 2732.2 L879.3 2731.9 L884.3 2731.7 L889.3 2731.4 L894.4 2731.1 L899.5 2730.8 L904.5 2730.4 L909.5 2729.8 L914.4 2729.2 L919.3 2727.9 L924.1 2726.0 L928.6 2723.7 L932.8 2721.2 L936.8 2718.1 L940.6 2714.7 L944.2 2711.0 L947.6 2707.3 L950.8 2703.5 L953.9 2699.4 L956.8 2695.3 L959.5 2691.0 L962.1 2686.7 L964.5 2682.2 L966.7 2677.7 L968.8 2673.1 L970.9 2668.5 L972.9 2663.9 L974.9 2659.3 L976.8 2654.6 L978.6 2649.9 L980.4 2645.2 L982.2 2640.4 L983.8 2635.7 L985.5 2630.9 L987.1 2626.2 L988.9 2621.4 L990.8 2616.7 L992.7 2612.1 L994.6 2607.4 L996.5 2602.7 L998.2 2598.0 L999.9 2593.3 L1001.5 2588.5 L1003.1 2583.7 L1004.6 2578.9 L1006.1 2574.1 L1007.6 2569.2 L1009.0 2564.4 L1010.5 2559.6 L1011.8 2554.7 L1013.2 2549.9 L1014.5 2545.0 L1015.8 2540.1 L1017.0 2535.3 L1018.3 2530.4 L1019.5 2525.5 L1020.7 2520.6 L1021.9 2515.7 L1023.1 2510.8 L1024.3 2505.9 L1025.5 2501.0 L1026.6 2496.1 L1027.8 2491.2 L1029.0 2486.2 L1030.1 2481.3 L1031.3 2476.4 L1032.5 2471.5 L1033.7 2466.6 L1035.0 2461.7 L1036.2 2456.9 L1037.5 2452.0 L1038.7 2447.1 L1040.0 2442.2 L1041.2 2437.3 L1042.5 2432.4 L1043.8 2427.6 L1045.0 2422.7 L1046.3 2417.8 L1047.5 2412.9 L1048.7 2408.0 L1050.0 2403.1 L1051.1 2398.2 L1052.3 2393.3 L1053.5 2388.4 L1054.6 2383.5 L1055.7 2378.6 L1056.7 2373.6 L1057.7 2368.7 L1058.7 2363.8 L1059.7 2358.8 L1060.7 2353.9 L1061.6 2348.9 L1062.5 2344.0 L1063.4 2339.0 L1064.3 2334.0 L1065.2 2329.1 L1066.1 2324.1 L1067.0 2319.2 L1067.9 2314.2 L1068.9 2309.2 L1069.8 2304.3 L1070.7 2299.3 L1071.7 2294.4 L1072.6 2289.4 L1073.6 2284.5 L1074.6 2279.5 L1075.6 2274.6 L1076.6 2269.6 L1077.7 2264.7 L1078.7 2259.8 L1079.7 2254.8 L1080.8 2249.9 L1081.8 2245.0 L1082.9 2240.0 L1083.9 2235.1 L1085.0 2230.2 L1086.0 2225.2 L1087.1 2220.3 L1088.1 2215.4 L1089.1 2210.4 L1090.2 2205.5 L1091.2 2200.6 L1092.2 2195.6 L1093.2 2190.7 L1094.2 2185.8 L1095.3 2180.8 L1096.3 2175.9 L1097.3 2170.9 L1098.3 2166.0 L1099.3 2161.1 L1100.3 2156.1 L1101.3 2151.2 L1102.3 2146.2 L1103.3 2141.3 L1104.3 2136.4 L1105.3 2131.4 L1106.3 2126.5 L1107.3 2121.5 L1108.3 2116.6 L1109.2 2111.6 L1110.2 2106.7 L1111.1 2101.7 L1112.1 2096.8 L1113.0 2091.8 L1114.0 2086.9 L1114.9 2081.9 L1115.8 2076.9 L1116.7 2072.0 L1117.6 2067.0 L1118.5 2062.1 L1119.4 2057.1 L1120.3 2052.1 L1121.3 2047.2 L1122.2 2042.2 L1123.1 2037.3 L1124.0 2032.3 L1125.0 2027.4 L1125.9 2022.4 L1126.8 2017.5 L1127.8 2012.5 L1128.8 2007.6 L1129.7 2002.6 L1130.7 1997.7 L1131.7 1992.7 L1132.7 1987.8 L1133.7 1982.8 L1134.7 1977.9 L1135.7 1972.9 L1136.6 1968.0 L1137.6 1963.0 L1138.6 1958.1 L1139.6 1953.2 L1140.6 1948.2 L1141.6 1943.3 L1142.5 1938.3 L1143.5 1933.4 L1144.5 1928.4 L1145.4 1923.5 L1146.3 1918.5 L1147.3 1913.6 L1148.2 1908.6 L1149.2 1903.7 L1150.1 1898.7 L1151.0 1893.7 L1152.0 1888.8 L1152.9 1883.8 L1153.8 1878.9 L1154.7 1873.9 L1155.7 1869.0 L1156.6 1864.0 L1157.5 1859.0 L1158.4 1854.1 L1159.3 1849.1 L1160.2 1844.2 L1161.1 1839.2" fill="none" stroke="#4679BE" stroke-width="5.20" stroke-linejoin="round" stroke-linecap="butt"/>
<path d="M672.8 2735.7 L677.8 2735.4 L682.9 2735.2 L687.9 2734.9 L692.9 2734.7 L698.0 2734.4 L703.0 2734.2 L708.0 2733.9 L713.1 2733.7 L718.1 2733.4 L723.1 2733.2 L728.2 2733.0 L733.2 2732.8 L738.2 2732.5 L743.3 2732.3 L748.3 2732.1 L753.3 2731.9 L758.4 2731.8 L763.4 2731.6 L768.5 2731.4 L773.5 2731.3 L778.5 2731.1 L783.6 2730.9 L788.6 2730.8 L793.6 2730.5 L798.7 2730.3 L803.7 2730.0 L808.8 2729.7 L813.9 2729.3 L818.9 2728.9 L823.9 2728.4 L828.8 2727.7 L833.6 2726.7 L838.4 2725.0 L843.0 2722.8 L847.6 2720.3 L851.9 2717.8 L856.1 2715.1 L860.2 2712.2 L864.1 2709.0 L868.0 2705.6 L871.8 2702.2 L875.5 2698.8 L879.1 2695.3 L882.7 2691.8 L886.2 2688.1 L889.4 2684.2 L892.4 2680.2 L895.2 2676.0 L897.9 2671.7 L900.5 2667.4 L903.0 2663.0 L905.4 2658.6 L907.7 2654.1 L910.0 2649.6 L912.3 2645.1 L914.6 2640.6 L916.8 2636.1 L919.1 2631.6 L921.3 2627.1 L923.4 2622.5 L925.5 2617.9 L927.5 2613.3 L929.5 2608.7 L931.5 2604.0 L933.3 2599.4 L935.1 2594.7 L936.9 2589.9 L938.5 2585.2 L940.2 2580.4 L941.8 2575.6 L943.4 2570.8 L945.0 2566.1 L946.5 2561.3 L948.1 2556.5 L949.7 2551.7 L951.3 2546.9 L952.9 2542.2 L954.5 2537.4 L956.1 2532.6 L957.7 2527.8 L959.3 2523.0 L960.9 2518.2 L962.4 2513.4 L964.0 2508.6 L965.6 2503.9 L967.1 2499.1 L968.6 2494.3 L970.2 2489.5 L971.7 2484.7 L973.2 2479.8 L974.7 2475.0 L976.2 2470.2 L977.7 2465.4 L979.2 2460.6 L980.7 2455.8 L982.1 2451.0 L983.6 2446.1 L985.0 2441.3 L986.5 2436.5 L987.9 2431.6 L989.3 2426.8 L990.7 2422.0 L992.2 2417.1 L993.6 2412.3 L995.0 2407.5 L996.4 2402.6 L997.7 2397.8 L999.1 2392.9 L1000.5 2388.1 L1001.9 2383.2 L1003.2 2378.4 L1004.6 2373.5 L1005.9 2368.7 L1007.3 2363.8 L1008.6 2358.9 L1009.9 2354.1 L1011.2 2349.2 L1012.5 2344.3 L1013.9 2339.5 L1015.2 2334.6 L1016.4 2329.7 L1017.7 2324.9 L1019.0 2320.0 L1020.3 2315.1 L1021.6 2310.2 L1022.8 2305.4 L1024.1 2300.5 L1025.4 2295.6 L1026.6 2290.7 L1027.9 2285.8 L1029.1 2281.0 L1030.3 2276.1 L1031.5 2271.2 L1032.8 2266.3 L1034.0 2261.4 L1035.2 2256.5 L1036.4 2251.6 L1037.6 2246.7 L1038.8 2241.8 L1040.0 2236.9 L1041.2 2232.0 L1042.3 2227.1 L1043.5 2222.2 L1044.7 2217.3 L1045.9 2212.4 L1047.1 2207.5 L1048.2 2202.6 L1049.4 2197.7 L1050.6 2192.8 L1051.7 2187.9 L1052.9 2183.0 L1054.0 2178.1 L1055.2 2173.2 L1056.3 2168.3 L1057.5 2163.4 L1058.6 2158.5 L1059.8 2153.6 L1060.9 2148.7 L1062.1 2143.8 L1063.2 2138.8 L1064.3 2133.9 L1065.5 2129.0 L1066.6 2124.1 L1067.7 2119.2 L1068.8 2114.3 L1069.9 2109.4 L1071.0 2104.5 L1072.1 2099.5 L1073.2 2094.6 L1074.3 2089.7 L1075.4 2084.8 L1076.5 2079.8 L1077.5 2074.9 L1078.6 2070.0 L1079.7 2065.1 L1080.8 2060.1 L1081.8 2055.2 L1082.9 2050.3 L1084.0 2045.4 L1085.1 2040.5 L1086.2 2035.5 L1087.3 2030.6 L1088.4 2025.7 L1089.5 2020.8 L1090.7 2015.9 L1091.8 2011.0 L1093.0 2006.1 L1094.2 2001.2 L1095.4 1996.3 L1096.6 1991.4 L1097.8 1986.5 L1099.0 1981.6 L1100.2 1976.7 L1101.5 1971.8 L1102.7 1966.9 L1103.9 1962.1 L1105.1 1957.2 L1106.3 1952.3 L1107.5 1947.4 L1108.7 1942.5 L1109.9 1937.6 L1111.1 1932.7 L1112.2 1927.8 L1113.4 1922.9 L1114.5 1918.0 L1115.6 1913.0 L1116.7 1908.1 L1117.8 1903.2 L1119.0 1898.3 L1120.1 1893.4 L1121.2 1888.5 L1122.2 1883.5 L1123.3 1878.6 L1124.4 1873.7 L1125.5 1868.8 L1126.5 1863.8 L1127.6 1858.9 L1128.7 1854.0 L1129.7 1849.1 L1130.8 1844.1 L1131.8 1839.2" fill="none" stroke="#C24A47" stroke-width="5.20" stroke-linejoin="round" stroke-linecap="butt"/>
<path d="M627.7 2734.3 L632.7 2733.5 L637.6 2732.7 L642.6 2731.9 L647.6 2731.2 L652.6 2730.4 L657.5 2729.6 L662.5 2728.9 L667.5 2728.3 L672.5 2727.6 L677.5 2726.8 L682.4 2726.0 L687.4 2725.0 L692.3 2723.9 L697.2 2722.7 L702.1 2721.3 L706.8 2719.7 L711.5 2717.9 L716.0 2715.7 L720.6 2713.4 L725.0 2711.1 L729.4 2708.6 L733.7 2706.0 L737.9 2703.2 L742.1 2700.3 L746.1 2697.4 L750.1 2694.4 L754.1 2691.2 L758.0 2688.0 L761.7 2684.6 L765.4 2681.2 L769.0 2677.7 L772.4 2674.0 L775.8 2670.3 L779.1 2666.4 L782.3 2662.6 L785.4 2658.6 L788.5 2654.6 L791.4 2650.5 L794.4 2646.4 L797.2 2642.3 L800.1 2638.1 L802.9 2634.0 L805.7 2629.8 L808.4 2625.5 L811.1 2621.3 L813.9 2617.1 L816.6 2612.8 L819.3 2608.6 L821.9 2604.3 L824.4 2599.9 L826.9 2595.6 L829.3 2591.1 L831.6 2586.7 L833.9 2582.2 L836.2 2577.7 L838.5 2573.2 L840.7 2568.7 L842.9 2564.1 L845.1 2559.6 L847.2 2555.1 L849.4 2550.5 L851.5 2545.9 L853.6 2541.4 L855.7 2536.8 L857.8 2532.2 L859.8 2527.6 L861.8 2523.0 L863.8 2518.4 L865.8 2513.7 L867.8 2509.1 L869.7 2504.5 L871.7 2499.8 L873.6 2495.2 L875.5 2490.5 L877.3 2485.8 L879.2 2481.1 L881.1 2476.5 L882.9 2471.8 L884.7 2467.1 L886.6 2462.4 L888.4 2457.7 L890.2 2453.0 L892.0 2448.3 L893.8 2443.6 L895.6 2438.9 L897.4 2434.2 L899.2 2429.5 L901.0 2424.8 L902.8 2420.1 L904.6 2415.4 L906.3 2410.7 L908.1 2406.0 L909.9 2401.2 L911.6 2396.5 L913.4 2391.8 L915.1 2387.1 L916.8 2382.4 L918.6 2377.6 L920.3 2372.9 L922.0 2368.2 L923.8 2363.4 L925.5 2358.7 L927.2 2354.0 L929.0 2349.3 L930.7 2344.5 L932.4 2339.8 L934.1 2335.1 L935.8 2330.3 L937.5 2325.6 L939.2 2320.8 L940.9 2316.1 L942.6 2311.3 L944.2 2306.6 L945.9 2301.8 L947.5 2297.1 L949.1 2292.3 L950.7 2287.5 L952.2 2282.7 L953.8 2278.0 L955.3 2273.2 L956.8 2268.4 L958.3 2263.6 L959.8 2258.8 L961.3 2253.9 L962.7 2249.1 L964.2 2244.3 L965.7 2239.5 L967.1 2234.7 L968.6 2229.8 L970.0 2225.0 L971.4 2220.2 L972.9 2215.4 L974.3 2210.5 L975.8 2205.7 L977.2 2200.9 L978.7 2196.1 L980.2 2191.3 L981.6 2186.5 L983.1 2181.6 L984.6 2176.8 L986.0 2172.0 L987.5 2167.2 L988.9 2162.4 L990.4 2157.5 L991.8 2152.7 L993.3 2147.9 L994.8 2143.1 L996.2 2138.3 L997.7 2133.5 L999.1 2128.6 L1000.6 2123.8 L1002.0 2119.0 L1003.5 2114.2 L1004.9 2109.4 L1006.4 2104.5 L1007.9 2099.7 L1009.3 2094.9 L1010.8 2090.1 L1012.2 2085.3 L1013.7 2080.5 L1015.2 2075.6 L1016.6 2070.8 L1018.1 2066.0 L1019.6 2061.2 L1021.0 2056.4 L1022.5 2051.6 L1023.9 2046.7 L1025.4 2041.9 L1026.9 2037.1 L1028.3 2032.3 L1029.8 2027.5 L1031.3 2022.7 L1032.8 2017.8 L1034.2 2013.0 L1035.7 2008.2 L1037.2 2003.4 L1038.7 1998.6 L1040.2 1993.8 L1041.7 1989.0 L1043.2 1984.2 L1044.8 1979.4 L1046.3 1974.6 L1047.8 1969.8 L1049.3 1965.0 L1050.8 1960.2 L1052.2 1955.4 L1053.7 1950.6 L1055.2 1945.7 L1056.7 1940.9 L1058.1 1936.1 L1059.5 1931.3 L1061.0 1926.5 L1062.4 1921.6 L1063.8 1916.8 L1065.2 1912.0 L1066.6 1907.1 L1068.0 1902.3 L1069.3 1897.4 L1070.7 1892.6 L1072.1 1887.8 L1073.5 1882.9 L1074.8 1878.1 L1076.2 1873.2 L1077.5 1868.4 L1078.8 1863.5 L1080.2 1858.6 L1081.5 1853.8 L1082.8 1848.9 L1084.1 1844.1 L1085.4 1839.2" fill="none" stroke="#9BBB59" stroke-width="5.20" stroke-linejoin="round" stroke-linecap="butt"/>
<text x="651.97" y="2626.30" font-size="41.30" font-weight="normal" fill="#000" textLength="108.19" lengthAdjust="spacingAndGlyphs">150&#176;C</text>
<text x="833.31" y="2624.90" font-size="41.30" font-weight="normal" fill="#000" textLength="86.16" lengthAdjust="spacingAndGlyphs">25&#176;C</text>
<text x="999.00" y="2622.00" font-size="41.30" font-weight="normal" fill="#000" textLength="99.85" lengthAdjust="spacingAndGlyphs">-55&#176;C</text>
<text transform="translate(181.10 2333.80) rotate(-90)" x="-2.00" y="0" font-size="42.00" textLength="109.76" lengthAdjust="spacingAndGlyphs">-IS(A)</text>
<text x="673.36" y="2840.00" font-size="41.00" font-weight="normal" fill="#000" textLength="155.29" lengthAdjust="spacingAndGlyphs">-VSD(V)</text>
<text x="536.78" y="2907.30" font-size="50.00" font-weight="normal" fill="#000" textLength="474.18" lengthAdjust="spacingAndGlyphs">Figure 3.-IS vs. -VSD</text>
<line x1="1491.4" y1="1840.0" x2="1491.4" y2="2730.0" stroke="#868686" stroke-width="3.8"/>
<line x1="1586.9" y1="1840.0" x2="1586.9" y2="2730.0" stroke="#868686" stroke-width="3.8"/>
<line x1="1682.3" y1="1840.0" x2="1682.3" y2="2730.0" stroke="#868686" stroke-width="3.8"/>
<line x1="1777.8" y1="1840.0" x2="1777.8" y2="2730.0" stroke="#868686" stroke-width="3.8"/>
<line x1="1873.2" y1="1840.0" x2="1873.2" y2="2730.0" stroke="#868686" stroke-width="3.8"/>
<line x1="1968.7" y1="1840.0" x2="1968.7" y2="2730.0" stroke="#868686" stroke-width="3.8"/>
<line x1="2064.1" y1="1840.0" x2="2064.1" y2="2730.0" stroke="#868686" stroke-width="3.8"/>
<line x1="2159.6" y1="1840.0" x2="2159.6" y2="2730.0" stroke="#868686" stroke-width="3.8"/>
<line x1="1396.0" y1="1938.9" x2="2255.0" y2="1938.9" stroke="#868686" stroke-width="3.8"/>
<line x1="1396.0" y1="2037.8" x2="2255.0" y2="2037.8" stroke="#868686" stroke-width="3.8"/>
<line x1="1396.0" y1="2136.7" x2="2255.0" y2="2136.7" stroke="#868686" stroke-width="3.8"/>
<line x1="1396.0" y1="2235.6" x2="2255.0" y2="2235.6" stroke="#868686" stroke-width="3.8"/>
<line x1="1396.0" y1="2334.4" x2="2255.0" y2="2334.4" stroke="#868686" stroke-width="3.8"/>
<line x1="1396.0" y1="2433.3" x2="2255.0" y2="2433.3" stroke="#868686" stroke-width="3.8"/>
<line x1="1396.0" y1="2532.2" x2="2255.0" y2="2532.2" stroke="#868686" stroke-width="3.8"/>
<line x1="1396.0" y1="2631.1" x2="2255.0" y2="2631.1" stroke="#868686" stroke-width="3.8"/>
<rect x="1396.0" y="1840.0" width="859.0" height="890.0" fill="none" stroke="#000" stroke-width="4.0"/>
<text x="1396.0" y="2792.9" font-size="42.0" text-anchor="middle" font-weight="normal" fill="#000">20</text>
<text x="1491.4" y="2792.9" font-size="42.0" text-anchor="middle" font-weight="normal" fill="#000">40</text>
<text x="1586.9" y="2792.9" font-size="42.0" text-anchor="middle" font-weight="normal" fill="#000">60</text>
<text x="1682.3" y="2792.9" font-size="42.0" text-anchor="middle" font-weight="normal" fill="#000">80</text>
<text x="1777.8" y="2792.9" font-size="42.0" text-anchor="middle" font-weight="normal" fill="#000">100</text>
<text x="1873.2" y="2792.9" font-size="42.0" text-anchor="middle" font-weight="normal" fill="#000">120</text>
<text x="1968.7" y="2792.9" font-size="42.0" text-anchor="middle" font-weight="normal" fill="#000">140</text>
<text x="2064.1" y="2792.9" font-size="42.0" text-anchor="middle" font-weight="normal" fill="#000">160</text>
<text x="2159.6" y="2792.9" font-size="42.0" text-anchor="middle" font-weight="normal" fill="#000">180</text>
<text x="2255.0" y="2792.9" font-size="42.0" text-anchor="middle" font-weight="normal" fill="#000">200</text>
<text x="1360.0" y="2743.4" font-size="42.0" text-anchor="end" font-weight="normal" fill="#000">0</text>
<text x="1360.0" y="2644.5" font-size="42.0" text-anchor="end" font-weight="normal" fill="#000">0.001</text>
<text x="1360.0" y="2545.6" font-size="42.0" text-anchor="end" font-weight="normal" fill="#000">0.002</text>
<text x="1360.0" y="2446.7" font-size="42.0" text-anchor="end" font-weight="normal" fill="#000">0.003</text>
<text x="1360.0" y="2347.8" font-size="42.0" text-anchor="end" font-weight="normal" fill="#000">0.004</text>
<text x="1360.0" y="2249.0" font-size="42.0" text-anchor="end" font-weight="normal" fill="#000">0.005</text>
<text x="1360.0" y="2150.1" font-size="42.0" text-anchor="end" font-weight="normal" fill="#000">0.006</text>
<text x="1360.0" y="2051.2" font-size="42.0" text-anchor="end" font-weight="normal" fill="#000">0.007</text>
<text x="1360.0" y="1952.3" font-size="42.0" text-anchor="end" font-weight="normal" fill="#000">0.008</text>
<text x="1360.0" y="1853.4" font-size="42.0" text-anchor="end" font-weight="normal" fill="#000">0.009</text>
<path d="M1396.1 2169.3 L1406.3 2185.3 L1416.0 2182.0 L1435.4 2188.1 L1460.4 2191.7 L1471.5 2189.5 L1490.9 2188.1 L1500.6 2184.0 L1511.7 2190.3 L1531.1 2186.2 L1546.3 2185.9 L1565.7 2190.3 L1576.8 2188.1 L1586.5 2191.7 L1604.6 2186.7 L1615.7 2189.5 L1624.0 2187.0 L1643.4 2185.4 L1654.5 2188.7 L1668.3 2184.8 L1681.6 2184.8 L1712.7 2182.0 L1734.9 2181.2 L1757.0 2179.8 L1777.0 2181.2 L1795.9 2177.9 L1815.3 2175.6 L1835.2 2173.1 L1850.5 2174.5 L1872.1 2171.7 L1893.5 2167.0 L1911.5 2168.1 L1925.4 2164.2 L1939.2 2164.2 L1950.3 2161.2 L1961.4 2160.6 L1976.6 2157.8 L1991.9 2157.0 L2014.1 2152.3 L2041.8 2146.7 L2052.9 2146.7 L2075.1 2143.1 L2097.2 2138.4 L2111.1 2137.0 L2122.2 2133.7 L2138.8 2131.5 L2158.2 2125.4 L2167.9 2125.4 L2177.6 2122.3 L2197.0 2118.5 L2219.2 2111.5 L2235.9 2107.9 L2254.7 2102.4" fill="none" stroke="#4679BE" stroke-width="5.3" stroke-linejoin="round"/>
<text x="1454.11" y="1937.80" font-size="41.30" font-weight="normal" fill="#000" textLength="159.32" lengthAdjust="spacingAndGlyphs">TJ=25&#176;C</text>
<text x="1743.80" y="2124.60" font-size="41.30" font-weight="normal" fill="#000" textLength="197.46" lengthAdjust="spacingAndGlyphs">VGS=-10V</text>
<text transform="translate(1234.90 2392.00) rotate(-90)" x="-2.98" y="0" font-size="42.00" textLength="221.38" lengthAdjust="spacingAndGlyphs">RDS(on)(&#937;)</text>
<text x="1775.84" y="2835.10" font-size="41.00" font-weight="normal" fill="#000" textLength="112.64" lengthAdjust="spacingAndGlyphs">-ID(A)</text>
<text x="1584.30" y="2909.60" font-size="50.00" font-weight="normal" fill="#000" textLength="536.58" lengthAdjust="spacingAndGlyphs">Figure 4.RDS(on) vs.-ID</text>
</svg>
</body></html>
